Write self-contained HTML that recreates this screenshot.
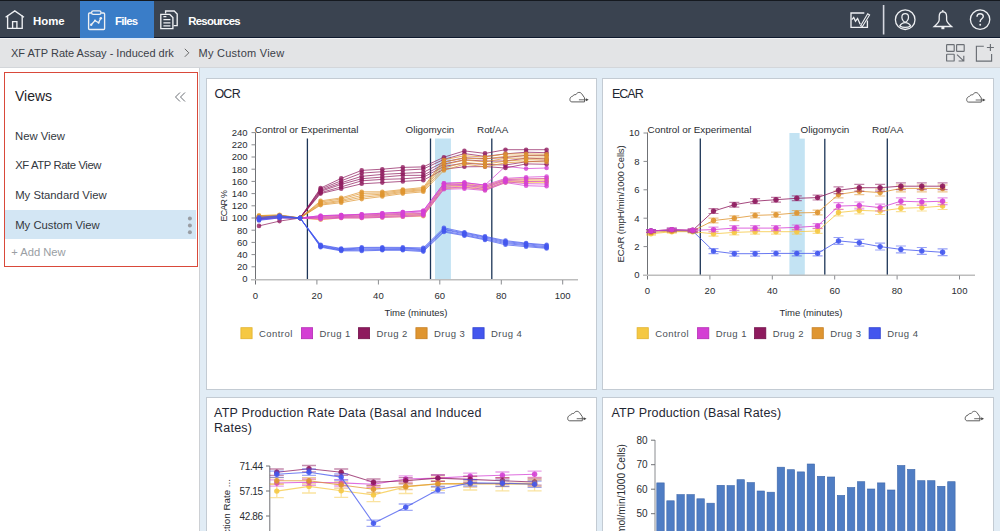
<!DOCTYPE html>
<html><head><meta charset="utf-8"><style>
*{box-sizing:border-box;margin:0;padding:0}
html,body{width:1000px;height:531px;overflow:hidden;background:#fff}
svg{position:absolute;left:0;top:0;overflow:visible}
svg text{font-family:"Liberation Sans", Arial, sans-serif}
.tk{font-size:9.5px;fill:#2a2d31}
.tk3{font-size:9.9px;fill:#2a2d31}
.tk2{font-size:10px;fill:#2a2d31}
.tk4{font-size:9.8px;fill:#2a2d31}
.lg{font-size:9.5px;fill:#4a4f56;letter-spacing:0.45px}
.bg{position:absolute}
</style></head><body>
<div class="bg" style="left:0;top:0;width:1000px;height:38px;background:#3a4350;border-top:1px solid #15191f;border-bottom:1px solid #0f1a2e"></div>
<div class="bg" style="left:80px;top:1px;width:73.5px;height:37px;background:#3a7dc8"></div>
<div class="bg" style="left:0;top:38px;width:1000px;height:30px;background:#e3e4e6;border-top:1.5px solid #f1f2f4;border-bottom:1px solid #d3d6da"></div>
<div class="bg" style="left:80px;top:38px;width:73.5px;height:1.6px;background:#dde9f8"></div>
<div class="bg" style="left:0;top:68px;width:200px;height:463px;background:#fff;border-right:1px solid #cdd0d4"></div>
<div class="bg" style="left:5px;top:209.5px;width:191px;height:29.5px;background:#d3e6f4"></div>
<div class="bg" style="left:4.2px;top:72px;width:193.6px;height:195px;border:1.6px solid #d9493a"></div>
<div class="bg" style="left:200px;top:68px;width:800px;height:463px;background:#e1ecf5"></div>
<div class="bg" style="left:206px;top:78px;width:391px;height:312px;background:#fff;border:1px solid #c3cbd3"></div>
<div class="bg" style="left:602px;top:78px;width:392px;height:312px;background:#fff;border:1px solid #c3cbd3"></div>
<div class="bg" style="left:206px;top:397px;width:391px;height:140px;background:#fff;border:1px solid #c3cbd3"></div>
<div class="bg" style="left:602px;top:397px;width:392px;height:140px;background:#fff;border:1px solid #c3cbd3"></div>

<svg width="1000" height="40" viewBox="0 0 1000 40" fill="none" stroke="#eef0f3" stroke-width="1.35" style="left:0;top:0">
<path d="M5.6 17.2 L14.8 10.9 L24 17.2"/><path d="M7.6 15.6 V28.3 H22.2 V15.6"/><path d="M12.6 28.3 V21.6 H16.9 V28.3"/>
<path d="M91.3 13 H89.6 Q88.6 13 88.6 14 V28.6 Q88.6 29.5 89.6 29.5 H103.6 Q104.6 29.5 104.6 28.6 V14 Q104.6 13 103.6 13 H101.2"/>
<rect x="91.6" y="10.9" width="9.4" height="3.5" rx="1.7"/>
<path d="M91.2 24.8 L95 20.6 L98.6 22.7 L100.8 18.2" stroke-width="1.3"/>
<circle cx="91.2" cy="24.8" r="1.2" fill="#eef0f3" stroke="none"/><circle cx="95" cy="20.6" r="1" fill="#eef0f3" stroke="none"/><circle cx="98.6" cy="22.7" r="1" fill="#eef0f3" stroke="none"/><circle cx="100.8" cy="18.2" r="1.3" fill="#eef0f3" stroke="none"/>
<path d="M165.6 13.6 V11 H174.2 L177.2 14 V25.6 H173.6"/>
<path d="M160.8 14.4 H169.8 L172.9 17.5 V28.6 H160.8 Z"/>
<path d="M163.4 16.6 H166.4 M163.4 19.7 H170.4 M163.4 22.8 H170.4 M163.4 25.9 H170.4" stroke-width="1.3"/>
<path d="M864.3 13 H851 V27.3 H867.4 V20.6"/>
<path d="M851.8 19.6 L853.7 17.4 L855.5 21.2 L857.6 18.4 L860.2 24.2" stroke-width="1.3"/>
<path d="M860.6 25.8 L867.7 13.8 L869.6 15 L862.4 26.6 Z" stroke-width="1.1"/>
<path d="M883.6 5 V34.5" stroke="#d5d8e0" stroke-width="1.6"/>
<circle cx="905.2" cy="19.7" r="9.8" stroke-width="1.3"/>
<path d="M905.2 13.7 C907.2 13.7 908.5 15.2 908.5 17.2 C908.5 19.5 906.8 22.1 905.2 22.1 C903.6 22.1 901.9 19.5 901.9 17.2 C901.9 15.2 903.2 13.7 905.2 13.7 Z" stroke-width="1.25"/>
<path d="M899.8 25.9 C901 23.7 903 22.6 905.2 22.6 C907.4 22.6 909.4 23.7 910.6 25.9 C909 27 907.2 27.4 905.2 27.4 C903.2 27.4 901.4 27 899.8 25.9 Z" stroke-width="1.2"/>
<path d="M942.8 11.9 C940.3 11.9 939.2 13.7 939.2 16.4 V19.8 C939.2 22.4 936.6 24.4 934.2 26.5 H951.6 C949.2 24.4 946.6 22.4 946.6 19.8 V16.4 C946.6 13.7 945.3 11.9 942.8 11.9 Z" stroke-width="1.3"/>
<circle cx="942.8" cy="11" r="0.9" fill="#eef0f3" stroke="none"/>
<rect x="941.4" y="27" width="3" height="2.2" fill="#eef0f3" stroke="none"/>
<circle cx="980.1" cy="19.6" r="9.7" stroke-width="1.3"/>
<path d="M977 16.8 C977 14.8 978.4 13.7 980.1 13.7 C982 13.7 983.3 14.9 983.3 16.6 C983.3 18.6 980.2 19 980.2 21.3 V22.1" stroke-width="1.4"/>
<circle cx="980.2" cy="24.8" r="0.95" fill="#eef0f3" stroke="none"/>
</svg>


<svg width="1000" height="70" viewBox="0 0 1000 70" fill="none" stroke="#6a6e74" stroke-width="1.15" style="left:0;top:0">
<rect x="946.6" y="44.6" width="7.6" height="6.8" rx="0.6"/><rect x="956.6" y="44.6" width="7.6" height="6.8" rx="0.6"/><rect x="946.6" y="54.2" width="7.6" height="6.8" rx="0.6"/>
<path d="M957 54.6 L963.6 60.8 M958.6 61 H963.8 V55.8"/>
<path d="M983.8 46.2 H976.4 V61.1 H991.6 V54.1"/><path d="M990.4 44 V51 M986.9 47.5 H993.9"/>
</svg>

<svg width="1000" height="531" viewBox="0 0 1000 531">
<path d="M184.8 48.8 L188.8 52.8 L184.8 56.8" fill="none" stroke="#666" stroke-width="1"/>
<path d="M180 92.5 L175.5 97 L180 101.5 M185 92.5 L180.5 97 L185 101.5" fill="none" stroke="#6b6f75" stroke-width="1"/>
<circle cx="189.9" cy="218.5" r="2" fill="#999da3"/><circle cx="189.9" cy="225.4" r="2" fill="#999da3"/><circle cx="189.9" cy="232.3" r="2" fill="#999da3"/>
<text x="33.00" y="24.50" font-size="11.40" font-weight="700" fill="#fff">Home</text>
<text x="115.00" y="24.50" font-size="11.40" letter-spacing="-0.70" font-weight="700" fill="#fff">Files</text>
<text x="188.30" y="24.50" font-size="11.40" letter-spacing="-0.75" font-weight="700" fill="#fff">Resources</text>
<text x="11.00" y="56.60" font-size="11.00" fill="#3b4048">XF ATP Rate Assay - Induced drk</text>
<text x="198.60" y="56.60" font-size="11.00" letter-spacing="0.25" fill="#3b4048">My Custom View</text>
<text x="15.00" y="101.00" font-size="14.00" fill="#1e2228">Views</text>
<text x="15.00" y="139.70" font-size="11.30" fill="#33383e">New View</text>
<text x="15.20" y="169.20" font-size="11.30" letter-spacing="-0.40" fill="#33383e">XF ATP Rate View</text>
<text x="15.20" y="199.00" font-size="11.30" fill="#33383e">My Standard View</text>
<text x="15.20" y="228.50" font-size="11.30" fill="#33383e">My Custom View</text>
<text x="11.20" y="256.00" font-size="11.20" fill="#9a9ea3">+ Add New</text>
<text x="214.40" y="97.80" font-size="12.50" letter-spacing="-0.75" fill="#1f2733">OCR</text>
<text x="612.00" y="97.80" font-size="12.50" letter-spacing="-1.00" fill="#1f2733">ECAR</text>
<text x="214.00" y="416.60" font-size="12.50" letter-spacing="0.24" fill="#1f2733">ATP Production Rate Data (Basal and Induced</text>
<text x="214.00" y="431.90" font-size="12.50" letter-spacing="0.24" fill="#1f2733">Rates)</text>
<text x="611.50" y="416.60" font-size="12.50" letter-spacing="0.15" fill="#1f2733">ATP Production (Basal Rates)</text>
<rect x="435" y="138.5" width="15.9" height="140.5" fill="#c3e3f3"/>
<line x1="307.4" y1="138.5" x2="307.4" y2="279" stroke="#1d3557" stroke-width="1.3"/>
<line x1="430.5" y1="138.5" x2="430.5" y2="279" stroke="#1d3557" stroke-width="1.3"/>
<line x1="491.8" y1="138.5" x2="491.8" y2="279" stroke="#1d3557" stroke-width="1.3"/>
<line x1="255.5" y1="132.6" x2="255.5" y2="284.5" stroke="#6f7175" stroke-width="1"/>
<line x1="251" y1="279.8" x2="578" y2="279.8" stroke="#bdbdbd" stroke-width="1.6"/>
<text x="247.5" y="282.4" text-anchor="end" class="tk">0</text>
<line x1="251.5" y1="266.8" x2="255.5" y2="266.8" stroke="#8a8c90" stroke-width="1"/>
<text x="247.5" y="270.2" text-anchor="end" class="tk">20</text>
<line x1="251.5" y1="254.6" x2="255.5" y2="254.6" stroke="#8a8c90" stroke-width="1"/>
<text x="247.5" y="258.0" text-anchor="end" class="tk">40</text>
<line x1="251.5" y1="242.4" x2="255.5" y2="242.4" stroke="#8a8c90" stroke-width="1"/>
<text x="247.5" y="245.8" text-anchor="end" class="tk">60</text>
<line x1="251.5" y1="230.2" x2="255.5" y2="230.2" stroke="#8a8c90" stroke-width="1"/>
<text x="247.5" y="233.6" text-anchor="end" class="tk">80</text>
<line x1="251.5" y1="218.0" x2="255.5" y2="218.0" stroke="#8a8c90" stroke-width="1"/>
<text x="247.5" y="221.4" text-anchor="end" class="tk">100</text>
<line x1="251.5" y1="205.8" x2="255.5" y2="205.8" stroke="#8a8c90" stroke-width="1"/>
<text x="247.5" y="209.2" text-anchor="end" class="tk">120</text>
<line x1="251.5" y1="193.6" x2="255.5" y2="193.6" stroke="#8a8c90" stroke-width="1"/>
<text x="247.5" y="197.0" text-anchor="end" class="tk">140</text>
<line x1="251.5" y1="181.4" x2="255.5" y2="181.4" stroke="#8a8c90" stroke-width="1"/>
<text x="247.5" y="184.8" text-anchor="end" class="tk">160</text>
<line x1="251.5" y1="169.2" x2="255.5" y2="169.2" stroke="#8a8c90" stroke-width="1"/>
<text x="247.5" y="172.6" text-anchor="end" class="tk">180</text>
<line x1="251.5" y1="157.0" x2="255.5" y2="157.0" stroke="#8a8c90" stroke-width="1"/>
<text x="247.5" y="160.4" text-anchor="end" class="tk">200</text>
<line x1="251.5" y1="144.8" x2="255.5" y2="144.8" stroke="#8a8c90" stroke-width="1"/>
<text x="247.5" y="148.2" text-anchor="end" class="tk">220</text>
<line x1="251.5" y1="132.6" x2="255.5" y2="132.6" stroke="#8a8c90" stroke-width="1"/>
<text x="247.5" y="136.0" text-anchor="end" class="tk">240</text>
<text x="255.5" y="299" text-anchor="middle" class="tk">0</text>
<line x1="316.9" y1="280" x2="316.9" y2="284.5" stroke="#8a8c90" stroke-width="1"/>
<text x="316.9" y="299" text-anchor="middle" class="tk">20</text>
<line x1="378.4" y1="280" x2="378.4" y2="284.5" stroke="#8a8c90" stroke-width="1"/>
<text x="378.4" y="299" text-anchor="middle" class="tk">40</text>
<line x1="439.8" y1="280" x2="439.8" y2="284.5" stroke="#8a8c90" stroke-width="1"/>
<text x="439.8" y="299" text-anchor="middle" class="tk">60</text>
<line x1="501.3" y1="280" x2="501.3" y2="284.5" stroke="#8a8c90" stroke-width="1"/>
<text x="501.3" y="299" text-anchor="middle" class="tk">80</text>
<line x1="562.7" y1="280" x2="562.7" y2="284.5" stroke="#8a8c90" stroke-width="1"/>
<text x="562.7" y="299" text-anchor="middle" class="tk">100</text>
<text x="416" y="315.5" text-anchor="middle" class="tk">Time (minutes)</text>
<text transform="translate(227.1,206.2) rotate(-90)" text-anchor="middle" class="tk" style="font-size:8.9px" letter-spacing="-0.75">ECAR %</text>
<text x="254.8" y="133.1" class="tk3">Control or Experimental</text>
<text x="405.5" y="133.1" class="tk3">Oligomycin</text>
<text x="477" y="133.1" class="tk3">Rot/AA</text>
<polyline points="259.0,218.0 279.5,217.3 300.1,218.0 320.6,219.8 341.2,217.9 361.7,217.9 382.3,217.4 402.8,216.8 423.3,216.2 443.9,188.7 464.4,187.5 485.0,189.9 505.5,182.6 526.1,182.6 546.6,182.6" fill="none" stroke="#f5c842" stroke-width="0.9" stroke-opacity="0.80"/>
<circle cx="259.0" cy="218.0" r="2.3" fill="#f5c842" fill-opacity="0.80"/>
<circle cx="279.5" cy="217.3" r="2.3" fill="#f5c842" fill-opacity="0.80"/>
<circle cx="300.1" cy="218.0" r="2.3" fill="#f5c842" fill-opacity="0.80"/>
<circle cx="320.6" cy="219.8" r="2.3" fill="#f5c842" fill-opacity="0.80"/>
<circle cx="341.2" cy="217.9" r="2.3" fill="#f5c842" fill-opacity="0.80"/>
<circle cx="361.7" cy="217.9" r="2.3" fill="#f5c842" fill-opacity="0.80"/>
<circle cx="382.3" cy="217.4" r="2.3" fill="#f5c842" fill-opacity="0.80"/>
<circle cx="402.8" cy="216.8" r="2.3" fill="#f5c842" fill-opacity="0.80"/>
<circle cx="423.3" cy="216.2" r="2.3" fill="#f5c842" fill-opacity="0.80"/>
<circle cx="443.9" cy="188.7" r="2.3" fill="#f5c842" fill-opacity="0.80"/>
<circle cx="464.4" cy="187.5" r="2.3" fill="#f5c842" fill-opacity="0.80"/>
<circle cx="485.0" cy="189.9" r="2.3" fill="#f5c842" fill-opacity="0.80"/>
<circle cx="505.5" cy="182.6" r="2.3" fill="#f5c842" fill-opacity="0.80"/>
<circle cx="526.1" cy="182.6" r="2.3" fill="#f5c842" fill-opacity="0.80"/>
<circle cx="546.6" cy="182.6" r="2.3" fill="#f5c842" fill-opacity="0.80"/>
<polyline points="259.0,217.2 279.5,216.7 300.1,218.0 320.6,218.9 341.2,217.2 361.7,217.0 382.3,216.3 402.8,215.8 423.3,215.2 443.9,187.3 464.4,186.0 485.0,188.8 505.5,181.5 526.1,181.4 546.6,181.0" fill="none" stroke="#f5c842" stroke-width="0.9" stroke-opacity="0.80"/>
<circle cx="259.0" cy="217.2" r="2.3" fill="#f5c842" fill-opacity="0.80"/>
<circle cx="279.5" cy="216.7" r="2.3" fill="#f5c842" fill-opacity="0.80"/>
<circle cx="300.1" cy="218.0" r="2.3" fill="#f5c842" fill-opacity="0.80"/>
<circle cx="320.6" cy="218.9" r="2.3" fill="#f5c842" fill-opacity="0.80"/>
<circle cx="341.2" cy="217.2" r="2.3" fill="#f5c842" fill-opacity="0.80"/>
<circle cx="361.7" cy="217.0" r="2.3" fill="#f5c842" fill-opacity="0.80"/>
<circle cx="382.3" cy="216.3" r="2.3" fill="#f5c842" fill-opacity="0.80"/>
<circle cx="402.8" cy="215.8" r="2.3" fill="#f5c842" fill-opacity="0.80"/>
<circle cx="423.3" cy="215.2" r="2.3" fill="#f5c842" fill-opacity="0.80"/>
<circle cx="443.9" cy="187.3" r="2.3" fill="#f5c842" fill-opacity="0.80"/>
<circle cx="464.4" cy="186.0" r="2.3" fill="#f5c842" fill-opacity="0.80"/>
<circle cx="485.0" cy="188.8" r="2.3" fill="#f5c842" fill-opacity="0.80"/>
<circle cx="505.5" cy="181.5" r="2.3" fill="#f5c842" fill-opacity="0.80"/>
<circle cx="526.1" cy="181.4" r="2.3" fill="#f5c842" fill-opacity="0.80"/>
<circle cx="546.6" cy="181.0" r="2.3" fill="#f5c842" fill-opacity="0.80"/>
<polyline points="259.0,216.3 279.5,215.7 300.1,218.0 320.6,217.7 341.2,216.4 361.7,216.1 382.3,215.3 402.8,214.7 423.3,214.2 443.9,186.0 464.4,184.7 485.0,187.5 505.5,180.2 526.1,180.2 546.6,179.8" fill="none" stroke="#f5c842" stroke-width="0.9" stroke-opacity="0.80"/>
<circle cx="259.0" cy="216.3" r="2.3" fill="#f5c842" fill-opacity="0.80"/>
<circle cx="279.5" cy="215.7" r="2.3" fill="#f5c842" fill-opacity="0.80"/>
<circle cx="300.1" cy="218.0" r="2.3" fill="#f5c842" fill-opacity="0.80"/>
<circle cx="320.6" cy="217.7" r="2.3" fill="#f5c842" fill-opacity="0.80"/>
<circle cx="341.2" cy="216.4" r="2.3" fill="#f5c842" fill-opacity="0.80"/>
<circle cx="361.7" cy="216.1" r="2.3" fill="#f5c842" fill-opacity="0.80"/>
<circle cx="382.3" cy="215.3" r="2.3" fill="#f5c842" fill-opacity="0.80"/>
<circle cx="402.8" cy="214.7" r="2.3" fill="#f5c842" fill-opacity="0.80"/>
<circle cx="423.3" cy="214.2" r="2.3" fill="#f5c842" fill-opacity="0.80"/>
<circle cx="443.9" cy="186.0" r="2.3" fill="#f5c842" fill-opacity="0.80"/>
<circle cx="464.4" cy="184.7" r="2.3" fill="#f5c842" fill-opacity="0.80"/>
<circle cx="485.0" cy="187.5" r="2.3" fill="#f5c842" fill-opacity="0.80"/>
<circle cx="505.5" cy="180.2" r="2.3" fill="#f5c842" fill-opacity="0.80"/>
<circle cx="526.1" cy="180.2" r="2.3" fill="#f5c842" fill-opacity="0.80"/>
<circle cx="546.6" cy="179.8" r="2.3" fill="#f5c842" fill-opacity="0.80"/>
<polyline points="259.0,215.6 279.5,214.9 300.1,218.0 320.6,216.8 341.2,215.6 361.7,215.0 382.3,214.4 402.8,213.7 423.3,213.2 443.9,184.5 464.4,183.3 485.0,186.3 505.5,179.0 526.1,179.0 546.6,178.4" fill="none" stroke="#f5c842" stroke-width="0.9" stroke-opacity="0.80"/>
<circle cx="259.0" cy="215.6" r="2.3" fill="#f5c842" fill-opacity="0.80"/>
<circle cx="279.5" cy="214.9" r="2.3" fill="#f5c842" fill-opacity="0.80"/>
<circle cx="300.1" cy="218.0" r="2.3" fill="#f5c842" fill-opacity="0.80"/>
<circle cx="320.6" cy="216.8" r="2.3" fill="#f5c842" fill-opacity="0.80"/>
<circle cx="341.2" cy="215.6" r="2.3" fill="#f5c842" fill-opacity="0.80"/>
<circle cx="361.7" cy="215.0" r="2.3" fill="#f5c842" fill-opacity="0.80"/>
<circle cx="382.3" cy="214.4" r="2.3" fill="#f5c842" fill-opacity="0.80"/>
<circle cx="402.8" cy="213.7" r="2.3" fill="#f5c842" fill-opacity="0.80"/>
<circle cx="423.3" cy="213.2" r="2.3" fill="#f5c842" fill-opacity="0.80"/>
<circle cx="443.9" cy="184.5" r="2.3" fill="#f5c842" fill-opacity="0.80"/>
<circle cx="464.4" cy="183.3" r="2.3" fill="#f5c842" fill-opacity="0.80"/>
<circle cx="485.0" cy="186.3" r="2.3" fill="#f5c842" fill-opacity="0.80"/>
<circle cx="505.5" cy="179.0" r="2.3" fill="#f5c842" fill-opacity="0.80"/>
<circle cx="526.1" cy="179.0" r="2.3" fill="#f5c842" fill-opacity="0.80"/>
<circle cx="546.6" cy="178.4" r="2.3" fill="#f5c842" fill-opacity="0.80"/>
<polyline points="259.0,219.8 279.5,218.0 300.1,218.0 320.6,219.2 341.2,218.0 361.7,218.0 382.3,217.4 402.8,216.7 423.3,215.6 443.9,189.3 464.4,188.7 485.0,190.5 505.5,182.6 526.1,185.7 546.6,186.3" fill="none" stroke="#d43fd4" stroke-width="0.9" stroke-opacity="0.80"/>
<circle cx="259.0" cy="219.8" r="2.3" fill="#d43fd4" fill-opacity="0.80"/>
<circle cx="279.5" cy="218.0" r="2.3" fill="#d43fd4" fill-opacity="0.80"/>
<circle cx="300.1" cy="218.0" r="2.3" fill="#d43fd4" fill-opacity="0.80"/>
<circle cx="320.6" cy="219.2" r="2.3" fill="#d43fd4" fill-opacity="0.80"/>
<circle cx="341.2" cy="218.0" r="2.3" fill="#d43fd4" fill-opacity="0.80"/>
<circle cx="361.7" cy="218.0" r="2.3" fill="#d43fd4" fill-opacity="0.80"/>
<circle cx="382.3" cy="217.4" r="2.3" fill="#d43fd4" fill-opacity="0.80"/>
<circle cx="402.8" cy="216.7" r="2.3" fill="#d43fd4" fill-opacity="0.80"/>
<circle cx="423.3" cy="215.6" r="2.3" fill="#d43fd4" fill-opacity="0.80"/>
<circle cx="443.9" cy="189.3" r="2.3" fill="#d43fd4" fill-opacity="0.80"/>
<circle cx="464.4" cy="188.7" r="2.3" fill="#d43fd4" fill-opacity="0.80"/>
<circle cx="485.0" cy="190.5" r="2.3" fill="#d43fd4" fill-opacity="0.80"/>
<circle cx="505.5" cy="182.6" r="2.3" fill="#d43fd4" fill-opacity="0.80"/>
<circle cx="526.1" cy="185.7" r="2.3" fill="#d43fd4" fill-opacity="0.80"/>
<circle cx="546.6" cy="186.3" r="2.3" fill="#d43fd4" fill-opacity="0.80"/>
<polyline points="259.0,219.2 279.5,217.5 300.1,218.0 320.6,218.2 341.2,217.3 361.7,217.1 382.3,216.5 402.8,215.6 423.3,214.5 443.9,188.0 464.4,187.1 485.0,189.3 505.5,181.7 526.1,183.7 546.6,184.0" fill="none" stroke="#d43fd4" stroke-width="0.9" stroke-opacity="0.80"/>
<circle cx="259.0" cy="219.2" r="2.3" fill="#d43fd4" fill-opacity="0.80"/>
<circle cx="279.5" cy="217.5" r="2.3" fill="#d43fd4" fill-opacity="0.80"/>
<circle cx="300.1" cy="218.0" r="2.3" fill="#d43fd4" fill-opacity="0.80"/>
<circle cx="320.6" cy="218.2" r="2.3" fill="#d43fd4" fill-opacity="0.80"/>
<circle cx="341.2" cy="217.3" r="2.3" fill="#d43fd4" fill-opacity="0.80"/>
<circle cx="361.7" cy="217.1" r="2.3" fill="#d43fd4" fill-opacity="0.80"/>
<circle cx="382.3" cy="216.5" r="2.3" fill="#d43fd4" fill-opacity="0.80"/>
<circle cx="402.8" cy="215.6" r="2.3" fill="#d43fd4" fill-opacity="0.80"/>
<circle cx="423.3" cy="214.5" r="2.3" fill="#d43fd4" fill-opacity="0.80"/>
<circle cx="443.9" cy="188.0" r="2.3" fill="#d43fd4" fill-opacity="0.80"/>
<circle cx="464.4" cy="187.1" r="2.3" fill="#d43fd4" fill-opacity="0.80"/>
<circle cx="485.0" cy="189.3" r="2.3" fill="#d43fd4" fill-opacity="0.80"/>
<circle cx="505.5" cy="181.7" r="2.3" fill="#d43fd4" fill-opacity="0.80"/>
<circle cx="526.1" cy="183.7" r="2.3" fill="#d43fd4" fill-opacity="0.80"/>
<circle cx="546.6" cy="184.0" r="2.3" fill="#d43fd4" fill-opacity="0.80"/>
<polyline points="259.0,218.6 279.5,217.1 300.1,218.0 320.6,217.4 341.2,216.5 361.7,216.2 382.3,215.2 402.8,214.3 423.3,213.3 443.9,186.2 464.4,185.4 485.0,187.8 505.5,180.4 526.1,181.5 546.6,181.3" fill="none" stroke="#d43fd4" stroke-width="0.9" stroke-opacity="0.80"/>
<circle cx="259.0" cy="218.6" r="2.3" fill="#d43fd4" fill-opacity="0.80"/>
<circle cx="279.5" cy="217.1" r="2.3" fill="#d43fd4" fill-opacity="0.80"/>
<circle cx="300.1" cy="218.0" r="2.3" fill="#d43fd4" fill-opacity="0.80"/>
<circle cx="320.6" cy="217.4" r="2.3" fill="#d43fd4" fill-opacity="0.80"/>
<circle cx="341.2" cy="216.5" r="2.3" fill="#d43fd4" fill-opacity="0.80"/>
<circle cx="361.7" cy="216.2" r="2.3" fill="#d43fd4" fill-opacity="0.80"/>
<circle cx="382.3" cy="215.2" r="2.3" fill="#d43fd4" fill-opacity="0.80"/>
<circle cx="402.8" cy="214.3" r="2.3" fill="#d43fd4" fill-opacity="0.80"/>
<circle cx="423.3" cy="213.3" r="2.3" fill="#d43fd4" fill-opacity="0.80"/>
<circle cx="443.9" cy="186.2" r="2.3" fill="#d43fd4" fill-opacity="0.80"/>
<circle cx="464.4" cy="185.4" r="2.3" fill="#d43fd4" fill-opacity="0.80"/>
<circle cx="485.0" cy="187.8" r="2.3" fill="#d43fd4" fill-opacity="0.80"/>
<circle cx="505.5" cy="180.4" r="2.3" fill="#d43fd4" fill-opacity="0.80"/>
<circle cx="526.1" cy="181.5" r="2.3" fill="#d43fd4" fill-opacity="0.80"/>
<circle cx="546.6" cy="181.3" r="2.3" fill="#d43fd4" fill-opacity="0.80"/>
<polyline points="259.0,218.0 279.5,216.6 300.1,218.0 320.6,216.5 341.2,215.6 361.7,215.2 382.3,214.3 402.8,213.2 423.3,211.8 443.9,184.8 464.4,184.4 485.0,186.5 505.5,179.6 526.1,178.9 546.6,178.6" fill="none" stroke="#d43fd4" stroke-width="0.9" stroke-opacity="0.80"/>
<circle cx="259.0" cy="218.0" r="2.3" fill="#d43fd4" fill-opacity="0.80"/>
<circle cx="279.5" cy="216.6" r="2.3" fill="#d43fd4" fill-opacity="0.80"/>
<circle cx="300.1" cy="218.0" r="2.3" fill="#d43fd4" fill-opacity="0.80"/>
<circle cx="320.6" cy="216.5" r="2.3" fill="#d43fd4" fill-opacity="0.80"/>
<circle cx="341.2" cy="215.6" r="2.3" fill="#d43fd4" fill-opacity="0.80"/>
<circle cx="361.7" cy="215.2" r="2.3" fill="#d43fd4" fill-opacity="0.80"/>
<circle cx="382.3" cy="214.3" r="2.3" fill="#d43fd4" fill-opacity="0.80"/>
<circle cx="402.8" cy="213.2" r="2.3" fill="#d43fd4" fill-opacity="0.80"/>
<circle cx="423.3" cy="211.8" r="2.3" fill="#d43fd4" fill-opacity="0.80"/>
<circle cx="443.9" cy="184.8" r="2.3" fill="#d43fd4" fill-opacity="0.80"/>
<circle cx="464.4" cy="184.4" r="2.3" fill="#d43fd4" fill-opacity="0.80"/>
<circle cx="485.0" cy="186.5" r="2.3" fill="#d43fd4" fill-opacity="0.80"/>
<circle cx="505.5" cy="179.6" r="2.3" fill="#d43fd4" fill-opacity="0.80"/>
<circle cx="526.1" cy="178.9" r="2.3" fill="#d43fd4" fill-opacity="0.80"/>
<circle cx="546.6" cy="178.6" r="2.3" fill="#d43fd4" fill-opacity="0.80"/>
<polyline points="259.0,217.4 279.5,216.2 300.1,218.0 320.6,215.7 341.2,215.0 361.7,214.3 382.3,213.2 402.8,212.1 423.3,210.7 443.9,183.3 464.4,182.6 485.0,185.1 505.5,178.4 526.1,177.2 546.6,176.5" fill="none" stroke="#d43fd4" stroke-width="0.9" stroke-opacity="0.80"/>
<circle cx="259.0" cy="217.4" r="2.3" fill="#d43fd4" fill-opacity="0.80"/>
<circle cx="279.5" cy="216.2" r="2.3" fill="#d43fd4" fill-opacity="0.80"/>
<circle cx="300.1" cy="218.0" r="2.3" fill="#d43fd4" fill-opacity="0.80"/>
<circle cx="320.6" cy="215.7" r="2.3" fill="#d43fd4" fill-opacity="0.80"/>
<circle cx="341.2" cy="215.0" r="2.3" fill="#d43fd4" fill-opacity="0.80"/>
<circle cx="361.7" cy="214.3" r="2.3" fill="#d43fd4" fill-opacity="0.80"/>
<circle cx="382.3" cy="213.2" r="2.3" fill="#d43fd4" fill-opacity="0.80"/>
<circle cx="402.8" cy="212.1" r="2.3" fill="#d43fd4" fill-opacity="0.80"/>
<circle cx="423.3" cy="210.7" r="2.3" fill="#d43fd4" fill-opacity="0.80"/>
<circle cx="443.9" cy="183.3" r="2.3" fill="#d43fd4" fill-opacity="0.80"/>
<circle cx="464.4" cy="182.6" r="2.3" fill="#d43fd4" fill-opacity="0.80"/>
<circle cx="485.0" cy="185.1" r="2.3" fill="#d43fd4" fill-opacity="0.80"/>
<circle cx="505.5" cy="178.4" r="2.3" fill="#d43fd4" fill-opacity="0.80"/>
<circle cx="526.1" cy="177.2" r="2.3" fill="#d43fd4" fill-opacity="0.80"/>
<circle cx="546.6" cy="176.5" r="2.3" fill="#d43fd4" fill-opacity="0.80"/>
<polyline points="259.0,217.4 279.5,216.2 300.1,218.0 320.6,215.7 341.2,215.0 361.7,214.3 382.3,213.2 402.8,212.1 423.3,210.7 443.9,183.3 464.4,182.6 485.0,185.1 505.5,166.2 526.1,168.6 546.6,168.0" fill="none" stroke="#d43fd4" stroke-width="0.9" stroke-opacity="0.80"/>
<circle cx="259.0" cy="217.4" r="2.3" fill="#d43fd4" fill-opacity="0.80"/>
<circle cx="279.5" cy="216.2" r="2.3" fill="#d43fd4" fill-opacity="0.80"/>
<circle cx="300.1" cy="218.0" r="2.3" fill="#d43fd4" fill-opacity="0.80"/>
<circle cx="320.6" cy="215.7" r="2.3" fill="#d43fd4" fill-opacity="0.80"/>
<circle cx="341.2" cy="215.0" r="2.3" fill="#d43fd4" fill-opacity="0.80"/>
<circle cx="361.7" cy="214.3" r="2.3" fill="#d43fd4" fill-opacity="0.80"/>
<circle cx="382.3" cy="213.2" r="2.3" fill="#d43fd4" fill-opacity="0.80"/>
<circle cx="402.8" cy="212.1" r="2.3" fill="#d43fd4" fill-opacity="0.80"/>
<circle cx="423.3" cy="210.7" r="2.3" fill="#d43fd4" fill-opacity="0.80"/>
<circle cx="443.9" cy="183.3" r="2.3" fill="#d43fd4" fill-opacity="0.80"/>
<circle cx="464.4" cy="182.6" r="2.3" fill="#d43fd4" fill-opacity="0.80"/>
<circle cx="485.0" cy="185.1" r="2.3" fill="#d43fd4" fill-opacity="0.80"/>
<circle cx="505.5" cy="166.2" r="2.3" fill="#d43fd4" fill-opacity="0.80"/>
<circle cx="526.1" cy="168.6" r="2.3" fill="#d43fd4" fill-opacity="0.80"/>
<circle cx="546.6" cy="168.0" r="2.3" fill="#d43fd4" fill-opacity="0.80"/>
<polyline points="259.0,225.9 279.5,221.1 300.1,218.0 320.6,193.6 341.2,188.7 361.7,183.8 382.3,182.6 402.8,181.4 423.3,180.2 443.9,169.2 464.4,166.8 485.0,166.6 505.5,168.0 526.1,163.9 546.6,164.3" fill="none" stroke="#8e1a5e" stroke-width="0.9" stroke-opacity="0.80"/>
<circle cx="259.0" cy="225.9" r="2.3" fill="#8e1a5e" fill-opacity="0.80"/>
<circle cx="279.5" cy="221.1" r="2.3" fill="#8e1a5e" fill-opacity="0.80"/>
<circle cx="300.1" cy="218.0" r="2.3" fill="#8e1a5e" fill-opacity="0.80"/>
<circle cx="320.6" cy="193.6" r="2.3" fill="#8e1a5e" fill-opacity="0.80"/>
<circle cx="341.2" cy="188.7" r="2.3" fill="#8e1a5e" fill-opacity="0.80"/>
<circle cx="361.7" cy="183.8" r="2.3" fill="#8e1a5e" fill-opacity="0.80"/>
<circle cx="382.3" cy="182.6" r="2.3" fill="#8e1a5e" fill-opacity="0.80"/>
<circle cx="402.8" cy="181.4" r="2.3" fill="#8e1a5e" fill-opacity="0.80"/>
<circle cx="423.3" cy="180.2" r="2.3" fill="#8e1a5e" fill-opacity="0.80"/>
<circle cx="443.9" cy="169.2" r="2.3" fill="#8e1a5e" fill-opacity="0.80"/>
<circle cx="464.4" cy="166.8" r="2.3" fill="#8e1a5e" fill-opacity="0.80"/>
<circle cx="485.0" cy="166.6" r="2.3" fill="#8e1a5e" fill-opacity="0.80"/>
<circle cx="505.5" cy="168.0" r="2.3" fill="#8e1a5e" fill-opacity="0.80"/>
<circle cx="526.1" cy="163.9" r="2.3" fill="#8e1a5e" fill-opacity="0.80"/>
<circle cx="546.6" cy="164.3" r="2.3" fill="#8e1a5e" fill-opacity="0.80"/>
<polyline points="259.0,217.9 279.5,217.0 300.1,218.0 320.6,192.7 341.2,186.9 361.7,180.8 382.3,179.4 402.8,178.8 423.3,177.3 443.9,166.4 464.4,163.1 485.0,164.5 505.5,165.0 526.1,161.8 546.6,160.9" fill="none" stroke="#8e1a5e" stroke-width="0.9" stroke-opacity="0.80"/>
<circle cx="259.0" cy="217.9" r="2.3" fill="#8e1a5e" fill-opacity="0.80"/>
<circle cx="279.5" cy="217.0" r="2.3" fill="#8e1a5e" fill-opacity="0.80"/>
<circle cx="300.1" cy="218.0" r="2.3" fill="#8e1a5e" fill-opacity="0.80"/>
<circle cx="320.6" cy="192.7" r="2.3" fill="#8e1a5e" fill-opacity="0.80"/>
<circle cx="341.2" cy="186.9" r="2.3" fill="#8e1a5e" fill-opacity="0.80"/>
<circle cx="361.7" cy="180.8" r="2.3" fill="#8e1a5e" fill-opacity="0.80"/>
<circle cx="382.3" cy="179.4" r="2.3" fill="#8e1a5e" fill-opacity="0.80"/>
<circle cx="402.8" cy="178.8" r="2.3" fill="#8e1a5e" fill-opacity="0.80"/>
<circle cx="423.3" cy="177.3" r="2.3" fill="#8e1a5e" fill-opacity="0.80"/>
<circle cx="443.9" cy="166.4" r="2.3" fill="#8e1a5e" fill-opacity="0.80"/>
<circle cx="464.4" cy="163.1" r="2.3" fill="#8e1a5e" fill-opacity="0.80"/>
<circle cx="485.0" cy="164.5" r="2.3" fill="#8e1a5e" fill-opacity="0.80"/>
<circle cx="505.5" cy="165.0" r="2.3" fill="#8e1a5e" fill-opacity="0.80"/>
<circle cx="526.1" cy="161.8" r="2.3" fill="#8e1a5e" fill-opacity="0.80"/>
<circle cx="546.6" cy="160.9" r="2.3" fill="#8e1a5e" fill-opacity="0.80"/>
<polyline points="259.0,217.6 279.5,216.6 300.1,218.0 320.6,191.4 341.2,184.4 361.7,178.7 382.3,177.1 402.8,175.4 423.3,175.3 443.9,164.1 464.4,159.8 485.0,161.1 505.5,161.0 526.1,158.1 546.6,158.9" fill="none" stroke="#8e1a5e" stroke-width="0.9" stroke-opacity="0.80"/>
<circle cx="259.0" cy="217.6" r="2.3" fill="#8e1a5e" fill-opacity="0.80"/>
<circle cx="279.5" cy="216.6" r="2.3" fill="#8e1a5e" fill-opacity="0.80"/>
<circle cx="300.1" cy="218.0" r="2.3" fill="#8e1a5e" fill-opacity="0.80"/>
<circle cx="320.6" cy="191.4" r="2.3" fill="#8e1a5e" fill-opacity="0.80"/>
<circle cx="341.2" cy="184.4" r="2.3" fill="#8e1a5e" fill-opacity="0.80"/>
<circle cx="361.7" cy="178.7" r="2.3" fill="#8e1a5e" fill-opacity="0.80"/>
<circle cx="382.3" cy="177.1" r="2.3" fill="#8e1a5e" fill-opacity="0.80"/>
<circle cx="402.8" cy="175.4" r="2.3" fill="#8e1a5e" fill-opacity="0.80"/>
<circle cx="423.3" cy="175.3" r="2.3" fill="#8e1a5e" fill-opacity="0.80"/>
<circle cx="443.9" cy="164.1" r="2.3" fill="#8e1a5e" fill-opacity="0.80"/>
<circle cx="464.4" cy="159.8" r="2.3" fill="#8e1a5e" fill-opacity="0.80"/>
<circle cx="485.0" cy="161.1" r="2.3" fill="#8e1a5e" fill-opacity="0.80"/>
<circle cx="505.5" cy="161.0" r="2.3" fill="#8e1a5e" fill-opacity="0.80"/>
<circle cx="526.1" cy="158.1" r="2.3" fill="#8e1a5e" fill-opacity="0.80"/>
<circle cx="546.6" cy="158.9" r="2.3" fill="#8e1a5e" fill-opacity="0.80"/>
<polyline points="259.0,217.4 279.5,217.5 300.1,218.0 320.6,190.4 341.2,182.8 361.7,176.3 382.3,174.4 402.8,173.3 423.3,172.4 443.9,161.9 464.4,157.8 485.0,158.6 505.5,157.5 526.1,155.4 546.6,155.3" fill="none" stroke="#8e1a5e" stroke-width="0.9" stroke-opacity="0.80"/>
<circle cx="259.0" cy="217.4" r="2.3" fill="#8e1a5e" fill-opacity="0.80"/>
<circle cx="279.5" cy="217.5" r="2.3" fill="#8e1a5e" fill-opacity="0.80"/>
<circle cx="300.1" cy="218.0" r="2.3" fill="#8e1a5e" fill-opacity="0.80"/>
<circle cx="320.6" cy="190.4" r="2.3" fill="#8e1a5e" fill-opacity="0.80"/>
<circle cx="341.2" cy="182.8" r="2.3" fill="#8e1a5e" fill-opacity="0.80"/>
<circle cx="361.7" cy="176.3" r="2.3" fill="#8e1a5e" fill-opacity="0.80"/>
<circle cx="382.3" cy="174.4" r="2.3" fill="#8e1a5e" fill-opacity="0.80"/>
<circle cx="402.8" cy="173.3" r="2.3" fill="#8e1a5e" fill-opacity="0.80"/>
<circle cx="423.3" cy="172.4" r="2.3" fill="#8e1a5e" fill-opacity="0.80"/>
<circle cx="443.9" cy="161.9" r="2.3" fill="#8e1a5e" fill-opacity="0.80"/>
<circle cx="464.4" cy="157.8" r="2.3" fill="#8e1a5e" fill-opacity="0.80"/>
<circle cx="485.0" cy="158.6" r="2.3" fill="#8e1a5e" fill-opacity="0.80"/>
<circle cx="505.5" cy="157.5" r="2.3" fill="#8e1a5e" fill-opacity="0.80"/>
<circle cx="526.1" cy="155.4" r="2.3" fill="#8e1a5e" fill-opacity="0.80"/>
<circle cx="546.6" cy="155.3" r="2.3" fill="#8e1a5e" fill-opacity="0.80"/>
<polyline points="259.0,218.4 279.5,216.5 300.1,218.0 320.6,189.2 341.2,180.8 361.7,173.1 382.3,171.7 402.8,170.2 423.3,169.0 443.9,159.4 464.4,153.6 485.0,156.4 505.5,153.9 526.1,152.2 546.6,152.7" fill="none" stroke="#8e1a5e" stroke-width="0.9" stroke-opacity="0.80"/>
<circle cx="259.0" cy="218.4" r="2.3" fill="#8e1a5e" fill-opacity="0.80"/>
<circle cx="279.5" cy="216.5" r="2.3" fill="#8e1a5e" fill-opacity="0.80"/>
<circle cx="300.1" cy="218.0" r="2.3" fill="#8e1a5e" fill-opacity="0.80"/>
<circle cx="320.6" cy="189.2" r="2.3" fill="#8e1a5e" fill-opacity="0.80"/>
<circle cx="341.2" cy="180.8" r="2.3" fill="#8e1a5e" fill-opacity="0.80"/>
<circle cx="361.7" cy="173.1" r="2.3" fill="#8e1a5e" fill-opacity="0.80"/>
<circle cx="382.3" cy="171.7" r="2.3" fill="#8e1a5e" fill-opacity="0.80"/>
<circle cx="402.8" cy="170.2" r="2.3" fill="#8e1a5e" fill-opacity="0.80"/>
<circle cx="423.3" cy="169.0" r="2.3" fill="#8e1a5e" fill-opacity="0.80"/>
<circle cx="443.9" cy="159.4" r="2.3" fill="#8e1a5e" fill-opacity="0.80"/>
<circle cx="464.4" cy="153.6" r="2.3" fill="#8e1a5e" fill-opacity="0.80"/>
<circle cx="485.0" cy="156.4" r="2.3" fill="#8e1a5e" fill-opacity="0.80"/>
<circle cx="505.5" cy="153.9" r="2.3" fill="#8e1a5e" fill-opacity="0.80"/>
<circle cx="526.1" cy="152.2" r="2.3" fill="#8e1a5e" fill-opacity="0.80"/>
<circle cx="546.6" cy="152.7" r="2.3" fill="#8e1a5e" fill-opacity="0.80"/>
<polyline points="259.0,218.5 279.5,216.9 300.1,218.0 320.6,188.1 341.2,178.4 361.7,170.4 382.3,169.2 402.8,167.4 423.3,166.9 443.9,157.2 464.4,150.9 485.0,153.4 505.5,149.7 526.1,149.7 546.6,149.7" fill="none" stroke="#8e1a5e" stroke-width="0.9" stroke-opacity="0.80"/>
<circle cx="259.0" cy="218.5" r="2.3" fill="#8e1a5e" fill-opacity="0.80"/>
<circle cx="279.5" cy="216.9" r="2.3" fill="#8e1a5e" fill-opacity="0.80"/>
<circle cx="300.1" cy="218.0" r="2.3" fill="#8e1a5e" fill-opacity="0.80"/>
<circle cx="320.6" cy="188.1" r="2.3" fill="#8e1a5e" fill-opacity="0.80"/>
<circle cx="341.2" cy="178.4" r="2.3" fill="#8e1a5e" fill-opacity="0.80"/>
<circle cx="361.7" cy="170.4" r="2.3" fill="#8e1a5e" fill-opacity="0.80"/>
<circle cx="382.3" cy="169.2" r="2.3" fill="#8e1a5e" fill-opacity="0.80"/>
<circle cx="402.8" cy="167.4" r="2.3" fill="#8e1a5e" fill-opacity="0.80"/>
<circle cx="423.3" cy="166.9" r="2.3" fill="#8e1a5e" fill-opacity="0.80"/>
<circle cx="443.9" cy="157.2" r="2.3" fill="#8e1a5e" fill-opacity="0.80"/>
<circle cx="464.4" cy="150.9" r="2.3" fill="#8e1a5e" fill-opacity="0.80"/>
<circle cx="485.0" cy="153.4" r="2.3" fill="#8e1a5e" fill-opacity="0.80"/>
<circle cx="505.5" cy="149.7" r="2.3" fill="#8e1a5e" fill-opacity="0.80"/>
<circle cx="526.1" cy="149.7" r="2.3" fill="#8e1a5e" fill-opacity="0.80"/>
<circle cx="546.6" cy="149.7" r="2.3" fill="#8e1a5e" fill-opacity="0.80"/>
<polyline points="259.0,217.9 279.5,217.4 300.1,218.0 320.6,205.1 341.2,202.7 361.7,199.1 382.3,196.5 402.8,193.6 423.3,191.8 443.9,170.4 464.4,164.1 485.0,166.8 505.5,162.8 526.1,161.6 546.6,161.9" fill="none" stroke="#df9530" stroke-width="0.9" stroke-opacity="0.80"/>
<circle cx="259.0" cy="217.9" r="2.3" fill="#df9530" fill-opacity="0.80"/>
<circle cx="279.5" cy="217.4" r="2.3" fill="#df9530" fill-opacity="0.80"/>
<circle cx="300.1" cy="218.0" r="2.3" fill="#df9530" fill-opacity="0.80"/>
<circle cx="320.6" cy="205.1" r="2.3" fill="#df9530" fill-opacity="0.80"/>
<circle cx="341.2" cy="202.7" r="2.3" fill="#df9530" fill-opacity="0.80"/>
<circle cx="361.7" cy="199.1" r="2.3" fill="#df9530" fill-opacity="0.80"/>
<circle cx="382.3" cy="196.5" r="2.3" fill="#df9530" fill-opacity="0.80"/>
<circle cx="402.8" cy="193.6" r="2.3" fill="#df9530" fill-opacity="0.80"/>
<circle cx="423.3" cy="191.8" r="2.3" fill="#df9530" fill-opacity="0.80"/>
<circle cx="443.9" cy="170.4" r="2.3" fill="#df9530" fill-opacity="0.80"/>
<circle cx="464.4" cy="164.1" r="2.3" fill="#df9530" fill-opacity="0.80"/>
<circle cx="485.0" cy="166.8" r="2.3" fill="#df9530" fill-opacity="0.80"/>
<circle cx="505.5" cy="162.8" r="2.3" fill="#df9530" fill-opacity="0.80"/>
<circle cx="526.1" cy="161.6" r="2.3" fill="#df9530" fill-opacity="0.80"/>
<circle cx="546.6" cy="161.9" r="2.3" fill="#df9530" fill-opacity="0.80"/>
<polyline points="259.0,217.4 279.5,216.9 300.1,218.0 320.6,204.3 341.2,201.4 361.7,197.3 382.3,195.3 402.8,192.4 423.3,190.6 443.9,168.0 464.4,162.5 485.0,164.2 505.5,161.1 526.1,159.7 546.6,160.0" fill="none" stroke="#df9530" stroke-width="0.9" stroke-opacity="0.80"/>
<circle cx="259.0" cy="217.4" r="2.3" fill="#df9530" fill-opacity="0.80"/>
<circle cx="279.5" cy="216.9" r="2.3" fill="#df9530" fill-opacity="0.80"/>
<circle cx="300.1" cy="218.0" r="2.3" fill="#df9530" fill-opacity="0.80"/>
<circle cx="320.6" cy="204.3" r="2.3" fill="#df9530" fill-opacity="0.80"/>
<circle cx="341.2" cy="201.4" r="2.3" fill="#df9530" fill-opacity="0.80"/>
<circle cx="361.7" cy="197.3" r="2.3" fill="#df9530" fill-opacity="0.80"/>
<circle cx="382.3" cy="195.3" r="2.3" fill="#df9530" fill-opacity="0.80"/>
<circle cx="402.8" cy="192.4" r="2.3" fill="#df9530" fill-opacity="0.80"/>
<circle cx="423.3" cy="190.6" r="2.3" fill="#df9530" fill-opacity="0.80"/>
<circle cx="443.9" cy="168.0" r="2.3" fill="#df9530" fill-opacity="0.80"/>
<circle cx="464.4" cy="162.5" r="2.3" fill="#df9530" fill-opacity="0.80"/>
<circle cx="485.0" cy="164.2" r="2.3" fill="#df9530" fill-opacity="0.80"/>
<circle cx="505.5" cy="161.1" r="2.3" fill="#df9530" fill-opacity="0.80"/>
<circle cx="526.1" cy="159.7" r="2.3" fill="#df9530" fill-opacity="0.80"/>
<circle cx="546.6" cy="160.0" r="2.3" fill="#df9530" fill-opacity="0.80"/>
<polyline points="259.0,216.8 279.5,216.1 300.1,218.0 320.6,203.2 341.2,200.4 361.7,195.4 382.3,194.2 402.8,191.4 423.3,189.7 443.9,164.8 464.4,160.1 485.0,161.8 505.5,158.3 526.1,158.1 546.6,158.0" fill="none" stroke="#df9530" stroke-width="0.9" stroke-opacity="0.80"/>
<circle cx="259.0" cy="216.8" r="2.3" fill="#df9530" fill-opacity="0.80"/>
<circle cx="279.5" cy="216.1" r="2.3" fill="#df9530" fill-opacity="0.80"/>
<circle cx="300.1" cy="218.0" r="2.3" fill="#df9530" fill-opacity="0.80"/>
<circle cx="320.6" cy="203.2" r="2.3" fill="#df9530" fill-opacity="0.80"/>
<circle cx="341.2" cy="200.4" r="2.3" fill="#df9530" fill-opacity="0.80"/>
<circle cx="361.7" cy="195.4" r="2.3" fill="#df9530" fill-opacity="0.80"/>
<circle cx="382.3" cy="194.2" r="2.3" fill="#df9530" fill-opacity="0.80"/>
<circle cx="402.8" cy="191.4" r="2.3" fill="#df9530" fill-opacity="0.80"/>
<circle cx="423.3" cy="189.7" r="2.3" fill="#df9530" fill-opacity="0.80"/>
<circle cx="443.9" cy="164.8" r="2.3" fill="#df9530" fill-opacity="0.80"/>
<circle cx="464.4" cy="160.1" r="2.3" fill="#df9530" fill-opacity="0.80"/>
<circle cx="485.0" cy="161.8" r="2.3" fill="#df9530" fill-opacity="0.80"/>
<circle cx="505.5" cy="158.3" r="2.3" fill="#df9530" fill-opacity="0.80"/>
<circle cx="526.1" cy="158.1" r="2.3" fill="#df9530" fill-opacity="0.80"/>
<circle cx="546.6" cy="158.0" r="2.3" fill="#df9530" fill-opacity="0.80"/>
<polyline points="259.0,216.2 279.5,215.5 300.1,218.0 320.6,202.0 341.2,199.0 361.7,193.4 382.3,193.0 402.8,190.4 423.3,188.7 443.9,162.2 464.4,158.1 485.0,159.1 505.5,156.3 526.1,155.7 546.6,156.0" fill="none" stroke="#df9530" stroke-width="0.9" stroke-opacity="0.80"/>
<circle cx="259.0" cy="216.2" r="2.3" fill="#df9530" fill-opacity="0.80"/>
<circle cx="279.5" cy="215.5" r="2.3" fill="#df9530" fill-opacity="0.80"/>
<circle cx="300.1" cy="218.0" r="2.3" fill="#df9530" fill-opacity="0.80"/>
<circle cx="320.6" cy="202.0" r="2.3" fill="#df9530" fill-opacity="0.80"/>
<circle cx="341.2" cy="199.0" r="2.3" fill="#df9530" fill-opacity="0.80"/>
<circle cx="361.7" cy="193.4" r="2.3" fill="#df9530" fill-opacity="0.80"/>
<circle cx="382.3" cy="193.0" r="2.3" fill="#df9530" fill-opacity="0.80"/>
<circle cx="402.8" cy="190.4" r="2.3" fill="#df9530" fill-opacity="0.80"/>
<circle cx="423.3" cy="188.7" r="2.3" fill="#df9530" fill-opacity="0.80"/>
<circle cx="443.9" cy="162.2" r="2.3" fill="#df9530" fill-opacity="0.80"/>
<circle cx="464.4" cy="158.1" r="2.3" fill="#df9530" fill-opacity="0.80"/>
<circle cx="485.0" cy="159.1" r="2.3" fill="#df9530" fill-opacity="0.80"/>
<circle cx="505.5" cy="156.3" r="2.3" fill="#df9530" fill-opacity="0.80"/>
<circle cx="526.1" cy="155.7" r="2.3" fill="#df9530" fill-opacity="0.80"/>
<circle cx="546.6" cy="156.0" r="2.3" fill="#df9530" fill-opacity="0.80"/>
<polyline points="259.0,215.6 279.5,215.0 300.1,218.0 320.6,200.9 341.2,197.9 361.7,191.8 382.3,191.8 402.8,189.5 423.3,187.5 443.9,159.7 464.4,155.8 485.0,157.0 505.5,153.9 526.1,153.9 546.6,154.2" fill="none" stroke="#df9530" stroke-width="0.9" stroke-opacity="0.80"/>
<circle cx="259.0" cy="215.6" r="2.3" fill="#df9530" fill-opacity="0.80"/>
<circle cx="279.5" cy="215.0" r="2.3" fill="#df9530" fill-opacity="0.80"/>
<circle cx="300.1" cy="218.0" r="2.3" fill="#df9530" fill-opacity="0.80"/>
<circle cx="320.6" cy="200.9" r="2.3" fill="#df9530" fill-opacity="0.80"/>
<circle cx="341.2" cy="197.9" r="2.3" fill="#df9530" fill-opacity="0.80"/>
<circle cx="361.7" cy="191.8" r="2.3" fill="#df9530" fill-opacity="0.80"/>
<circle cx="382.3" cy="191.8" r="2.3" fill="#df9530" fill-opacity="0.80"/>
<circle cx="402.8" cy="189.5" r="2.3" fill="#df9530" fill-opacity="0.80"/>
<circle cx="423.3" cy="187.5" r="2.3" fill="#df9530" fill-opacity="0.80"/>
<circle cx="443.9" cy="159.7" r="2.3" fill="#df9530" fill-opacity="0.80"/>
<circle cx="464.4" cy="155.8" r="2.3" fill="#df9530" fill-opacity="0.80"/>
<circle cx="485.0" cy="157.0" r="2.3" fill="#df9530" fill-opacity="0.80"/>
<circle cx="505.5" cy="153.9" r="2.3" fill="#df9530" fill-opacity="0.80"/>
<circle cx="526.1" cy="153.9" r="2.3" fill="#df9530" fill-opacity="0.80"/>
<circle cx="546.6" cy="154.2" r="2.3" fill="#df9530" fill-opacity="0.80"/>
<polyline points="259.0,220.4 279.5,217.9 300.1,218.0 320.6,247.2 341.2,250.9 361.7,250.9 382.3,250.3 402.8,250.3 423.3,251.6 443.9,232.0 464.4,235.7 485.0,239.9 505.5,244.8 526.1,246.7 546.6,248.4" fill="none" stroke="#4356ee" stroke-width="0.9" stroke-opacity="0.80"/>
<circle cx="259.0" cy="220.4" r="2.3" fill="#4356ee" fill-opacity="0.80"/>
<circle cx="279.5" cy="217.9" r="2.3" fill="#4356ee" fill-opacity="0.80"/>
<circle cx="300.1" cy="218.0" r="2.3" fill="#4356ee" fill-opacity="0.80"/>
<circle cx="320.6" cy="247.2" r="2.3" fill="#4356ee" fill-opacity="0.80"/>
<circle cx="341.2" cy="250.9" r="2.3" fill="#4356ee" fill-opacity="0.80"/>
<circle cx="361.7" cy="250.9" r="2.3" fill="#4356ee" fill-opacity="0.80"/>
<circle cx="382.3" cy="250.3" r="2.3" fill="#4356ee" fill-opacity="0.80"/>
<circle cx="402.8" cy="250.3" r="2.3" fill="#4356ee" fill-opacity="0.80"/>
<circle cx="423.3" cy="251.6" r="2.3" fill="#4356ee" fill-opacity="0.80"/>
<circle cx="443.9" cy="232.0" r="2.3" fill="#4356ee" fill-opacity="0.80"/>
<circle cx="464.4" cy="235.7" r="2.3" fill="#4356ee" fill-opacity="0.80"/>
<circle cx="485.0" cy="239.9" r="2.3" fill="#4356ee" fill-opacity="0.80"/>
<circle cx="505.5" cy="244.8" r="2.3" fill="#4356ee" fill-opacity="0.80"/>
<circle cx="526.1" cy="246.7" r="2.3" fill="#4356ee" fill-opacity="0.80"/>
<circle cx="546.6" cy="248.4" r="2.3" fill="#4356ee" fill-opacity="0.80"/>
<polyline points="259.0,219.7 279.5,217.4 300.1,218.0 320.6,246.6 341.2,250.3 361.7,250.0 382.3,249.6 402.8,249.6 423.3,250.7 443.9,231.0 464.4,234.9 485.0,239.1 505.5,243.6 526.1,245.6 546.6,247.7" fill="none" stroke="#4356ee" stroke-width="0.9" stroke-opacity="0.80"/>
<circle cx="259.0" cy="219.7" r="2.3" fill="#4356ee" fill-opacity="0.80"/>
<circle cx="279.5" cy="217.4" r="2.3" fill="#4356ee" fill-opacity="0.80"/>
<circle cx="300.1" cy="218.0" r="2.3" fill="#4356ee" fill-opacity="0.80"/>
<circle cx="320.6" cy="246.6" r="2.3" fill="#4356ee" fill-opacity="0.80"/>
<circle cx="341.2" cy="250.3" r="2.3" fill="#4356ee" fill-opacity="0.80"/>
<circle cx="361.7" cy="250.0" r="2.3" fill="#4356ee" fill-opacity="0.80"/>
<circle cx="382.3" cy="249.6" r="2.3" fill="#4356ee" fill-opacity="0.80"/>
<circle cx="402.8" cy="249.6" r="2.3" fill="#4356ee" fill-opacity="0.80"/>
<circle cx="423.3" cy="250.7" r="2.3" fill="#4356ee" fill-opacity="0.80"/>
<circle cx="443.9" cy="231.0" r="2.3" fill="#4356ee" fill-opacity="0.80"/>
<circle cx="464.4" cy="234.9" r="2.3" fill="#4356ee" fill-opacity="0.80"/>
<circle cx="485.0" cy="239.1" r="2.3" fill="#4356ee" fill-opacity="0.80"/>
<circle cx="505.5" cy="243.6" r="2.3" fill="#4356ee" fill-opacity="0.80"/>
<circle cx="526.1" cy="245.6" r="2.3" fill="#4356ee" fill-opacity="0.80"/>
<circle cx="546.6" cy="247.7" r="2.3" fill="#4356ee" fill-opacity="0.80"/>
<polyline points="259.0,219.0 279.5,216.8 300.1,218.0 320.6,246.0 341.2,249.8 361.7,249.1 382.3,248.9 402.8,248.8 423.3,249.7 443.9,229.7 464.4,233.9 485.0,238.0 505.5,242.6 526.1,244.7 546.6,246.8" fill="none" stroke="#4356ee" stroke-width="0.9" stroke-opacity="0.80"/>
<circle cx="259.0" cy="219.0" r="2.3" fill="#4356ee" fill-opacity="0.80"/>
<circle cx="279.5" cy="216.8" r="2.3" fill="#4356ee" fill-opacity="0.80"/>
<circle cx="300.1" cy="218.0" r="2.3" fill="#4356ee" fill-opacity="0.80"/>
<circle cx="320.6" cy="246.0" r="2.3" fill="#4356ee" fill-opacity="0.80"/>
<circle cx="341.2" cy="249.8" r="2.3" fill="#4356ee" fill-opacity="0.80"/>
<circle cx="361.7" cy="249.1" r="2.3" fill="#4356ee" fill-opacity="0.80"/>
<circle cx="382.3" cy="248.9" r="2.3" fill="#4356ee" fill-opacity="0.80"/>
<circle cx="402.8" cy="248.8" r="2.3" fill="#4356ee" fill-opacity="0.80"/>
<circle cx="423.3" cy="249.7" r="2.3" fill="#4356ee" fill-opacity="0.80"/>
<circle cx="443.9" cy="229.7" r="2.3" fill="#4356ee" fill-opacity="0.80"/>
<circle cx="464.4" cy="233.9" r="2.3" fill="#4356ee" fill-opacity="0.80"/>
<circle cx="485.0" cy="238.0" r="2.3" fill="#4356ee" fill-opacity="0.80"/>
<circle cx="505.5" cy="242.6" r="2.3" fill="#4356ee" fill-opacity="0.80"/>
<circle cx="526.1" cy="244.7" r="2.3" fill="#4356ee" fill-opacity="0.80"/>
<circle cx="546.6" cy="246.8" r="2.3" fill="#4356ee" fill-opacity="0.80"/>
<polyline points="259.0,218.2 279.5,216.1 300.1,218.0 320.6,245.4 341.2,249.1 361.7,248.1 382.3,248.0 402.8,248.2 423.3,248.9 443.9,229.0 464.4,233.0 485.0,237.1 505.5,241.6 526.1,243.8 546.6,245.7" fill="none" stroke="#4356ee" stroke-width="0.9" stroke-opacity="0.80"/>
<circle cx="259.0" cy="218.2" r="2.3" fill="#4356ee" fill-opacity="0.80"/>
<circle cx="279.5" cy="216.1" r="2.3" fill="#4356ee" fill-opacity="0.80"/>
<circle cx="300.1" cy="218.0" r="2.3" fill="#4356ee" fill-opacity="0.80"/>
<circle cx="320.6" cy="245.4" r="2.3" fill="#4356ee" fill-opacity="0.80"/>
<circle cx="341.2" cy="249.1" r="2.3" fill="#4356ee" fill-opacity="0.80"/>
<circle cx="361.7" cy="248.1" r="2.3" fill="#4356ee" fill-opacity="0.80"/>
<circle cx="382.3" cy="248.0" r="2.3" fill="#4356ee" fill-opacity="0.80"/>
<circle cx="402.8" cy="248.2" r="2.3" fill="#4356ee" fill-opacity="0.80"/>
<circle cx="423.3" cy="248.9" r="2.3" fill="#4356ee" fill-opacity="0.80"/>
<circle cx="443.9" cy="229.0" r="2.3" fill="#4356ee" fill-opacity="0.80"/>
<circle cx="464.4" cy="233.0" r="2.3" fill="#4356ee" fill-opacity="0.80"/>
<circle cx="485.0" cy="237.1" r="2.3" fill="#4356ee" fill-opacity="0.80"/>
<circle cx="505.5" cy="241.6" r="2.3" fill="#4356ee" fill-opacity="0.80"/>
<circle cx="526.1" cy="243.8" r="2.3" fill="#4356ee" fill-opacity="0.80"/>
<circle cx="546.6" cy="245.7" r="2.3" fill="#4356ee" fill-opacity="0.80"/>
<polyline points="259.0,217.4 279.5,215.6 300.1,218.0 320.6,244.8 341.2,248.5 361.7,247.4 382.3,247.3 402.8,247.4 423.3,247.9 443.9,227.8 464.4,232.2 485.0,236.4 505.5,240.6 526.1,243.1 546.6,244.8" fill="none" stroke="#4356ee" stroke-width="0.9" stroke-opacity="0.80"/>
<circle cx="259.0" cy="217.4" r="2.3" fill="#4356ee" fill-opacity="0.80"/>
<circle cx="279.5" cy="215.6" r="2.3" fill="#4356ee" fill-opacity="0.80"/>
<circle cx="300.1" cy="218.0" r="2.3" fill="#4356ee" fill-opacity="0.80"/>
<circle cx="320.6" cy="244.8" r="2.3" fill="#4356ee" fill-opacity="0.80"/>
<circle cx="341.2" cy="248.5" r="2.3" fill="#4356ee" fill-opacity="0.80"/>
<circle cx="361.7" cy="247.4" r="2.3" fill="#4356ee" fill-opacity="0.80"/>
<circle cx="382.3" cy="247.3" r="2.3" fill="#4356ee" fill-opacity="0.80"/>
<circle cx="402.8" cy="247.4" r="2.3" fill="#4356ee" fill-opacity="0.80"/>
<circle cx="423.3" cy="247.9" r="2.3" fill="#4356ee" fill-opacity="0.80"/>
<circle cx="443.9" cy="227.8" r="2.3" fill="#4356ee" fill-opacity="0.80"/>
<circle cx="464.4" cy="232.2" r="2.3" fill="#4356ee" fill-opacity="0.80"/>
<circle cx="485.0" cy="236.4" r="2.3" fill="#4356ee" fill-opacity="0.80"/>
<circle cx="505.5" cy="240.6" r="2.3" fill="#4356ee" fill-opacity="0.80"/>
<circle cx="526.1" cy="243.1" r="2.3" fill="#4356ee" fill-opacity="0.80"/>
<circle cx="546.6" cy="244.8" r="2.3" fill="#4356ee" fill-opacity="0.80"/>
<rect x="240.9" y="327.7" width="11.2" height="11" fill="#f5c842" stroke="#e2b22e" stroke-width="0.8"/>
<text x="259.0" y="336.8" class="lg">Control</text>
<rect x="301.4" y="327.7" width="11.2" height="11" fill="#d43fd4" stroke="#b42ab4" stroke-width="0.8"/>
<text x="319.5" y="336.8" class="lg">Drug 1</text>
<rect x="358.4" y="327.7" width="11.2" height="11" fill="#8e1a5e" stroke="#72104a" stroke-width="0.8"/>
<text x="376.5" y="336.8" class="lg">Drug 2</text>
<rect x="415.9" y="327.7" width="11.2" height="11" fill="#df9530" stroke="#c67f22" stroke-width="0.8"/>
<text x="434.0" y="336.8" class="lg">Drug 3</text>
<rect x="472.9" y="327.7" width="11.2" height="11" fill="#4356ee" stroke="#2f42d0" stroke-width="0.8"/>
<text x="491.0" y="336.8" class="lg">Drug 4</text>
<rect x="789.4" y="133" width="15.4" height="142" fill="#c3e3f3"/>
<line x1="700.3" y1="138.5" x2="700.3" y2="275" stroke="#1d3557" stroke-width="1.3"/>
<line x1="824.8" y1="138.5" x2="824.8" y2="275" stroke="#1d3557" stroke-width="1.3"/>
<line x1="887.3" y1="138.5" x2="887.3" y2="275" stroke="#1d3557" stroke-width="1.3"/>
<line x1="647.5" y1="132.5" x2="647.5" y2="279.5" stroke="#6f7175" stroke-width="1"/>
<line x1="643" y1="275.3" x2="975" y2="275.3" stroke="#bdbdbd" stroke-width="1.6"/>
<text x="639.5" y="278.4" text-anchor="end" class="tk">0</text>
<line x1="643.5" y1="246.6" x2="647.5" y2="246.6" stroke="#8a8c90" stroke-width="1"/>
<text x="639.5" y="250.0" text-anchor="end" class="tk">2</text>
<line x1="643.5" y1="218.2" x2="647.5" y2="218.2" stroke="#8a8c90" stroke-width="1"/>
<text x="639.5" y="221.6" text-anchor="end" class="tk">4</text>
<line x1="643.5" y1="189.8" x2="647.5" y2="189.8" stroke="#8a8c90" stroke-width="1"/>
<text x="639.5" y="193.2" text-anchor="end" class="tk">6</text>
<line x1="643.5" y1="161.4" x2="647.5" y2="161.4" stroke="#8a8c90" stroke-width="1"/>
<text x="639.5" y="164.8" text-anchor="end" class="tk">8</text>
<line x1="643.5" y1="133.0" x2="647.5" y2="133.0" stroke="#8a8c90" stroke-width="1"/>
<text x="639.5" y="136.4" text-anchor="end" class="tk">10</text>
<text x="647.5" y="294" text-anchor="middle" class="tk">0</text>
<line x1="709.9" y1="275.5" x2="709.9" y2="279.5" stroke="#8a8c90" stroke-width="1"/>
<text x="709.9" y="294" text-anchor="middle" class="tk">20</text>
<line x1="772.3" y1="275.5" x2="772.3" y2="279.5" stroke="#8a8c90" stroke-width="1"/>
<text x="772.3" y="294" text-anchor="middle" class="tk">40</text>
<line x1="834.7" y1="275.5" x2="834.7" y2="279.5" stroke="#8a8c90" stroke-width="1"/>
<text x="834.7" y="294" text-anchor="middle" class="tk">60</text>
<line x1="897.1" y1="275.5" x2="897.1" y2="279.5" stroke="#8a8c90" stroke-width="1"/>
<text x="897.1" y="294" text-anchor="middle" class="tk">80</text>
<line x1="959.5" y1="275.5" x2="959.5" y2="279.5" stroke="#8a8c90" stroke-width="1"/>
<text x="959.5" y="294" text-anchor="middle" class="tk">100</text>
<text x="811" y="315.5" text-anchor="middle" class="tk">Time (minutes)</text>
<text transform="translate(623.6,204) rotate(-90)" text-anchor="middle" class="tk" letter-spacing="-0.16">ECAR (mpH/min/1000 Cells)</text>
<rect x="799.6" y="124" width="60" height="14.6" fill="#fff"/>
<text x="647.6" y="133.1" class="tk3">Control or Experimental</text>
<text x="800.5" y="133.1" class="tk3">Oligomycin</text>
<text x="872" y="133.1" class="tk3">Rot/AA</text>
<path d="M646.0 232.4H656.0M646.0 235.2H656.0M651.0 232.4V235.2" stroke="#f5c842" stroke-opacity="0.55" stroke-width="1.2" fill="none"/>
<path d="M666.8 230.3H676.8M666.8 233.1H676.8M671.8 230.3V233.1" stroke="#f5c842" stroke-opacity="0.55" stroke-width="1.2" fill="none"/>
<path d="M687.7 230.3H697.7M687.7 233.1H697.7M692.7 230.3V233.1" stroke="#f5c842" stroke-opacity="0.55" stroke-width="1.2" fill="none"/>
<path d="M708.5 231.4H718.5M708.5 236.2H718.5M713.5 231.4V236.2" stroke="#f5c842" stroke-opacity="0.55" stroke-width="1.2" fill="none"/>
<path d="M729.3 230.0H739.3M729.3 234.8H739.3M734.3 230.0V234.8" stroke="#f5c842" stroke-opacity="0.55" stroke-width="1.2" fill="none"/>
<path d="M750.1 229.3H760.1M750.1 234.1H760.1M755.1 229.3V234.1" stroke="#f5c842" stroke-opacity="0.55" stroke-width="1.2" fill="none"/>
<path d="M771.0 229.3H781.0M771.0 234.1H781.0M776.0 229.3V234.1" stroke="#f5c842" stroke-opacity="0.55" stroke-width="1.2" fill="none"/>
<path d="M791.8 229.3H801.8M791.8 234.1H801.8M796.8 229.3V234.1" stroke="#f5c842" stroke-opacity="0.55" stroke-width="1.2" fill="none"/>
<path d="M812.6 228.6H822.6M812.6 233.4H822.6M817.6 228.6V233.4" stroke="#f5c842" stroke-opacity="0.55" stroke-width="1.2" fill="none"/>
<path d="M833.5 209.1H843.5M833.5 215.9H843.5M838.5 209.1V215.9" stroke="#f5c842" stroke-opacity="0.55" stroke-width="1.2" fill="none"/>
<path d="M854.3 207.0H864.3M854.3 213.8H864.3M859.3 207.0V213.8" stroke="#f5c842" stroke-opacity="0.55" stroke-width="1.2" fill="none"/>
<path d="M875.1 207.7H885.1M875.1 214.5H885.1M880.1 207.7V214.5" stroke="#f5c842" stroke-opacity="0.55" stroke-width="1.2" fill="none"/>
<path d="M895.9 204.9H905.9M895.9 211.7H905.9M900.9 204.9V211.7" stroke="#f5c842" stroke-opacity="0.55" stroke-width="1.2" fill="none"/>
<path d="M916.8 204.1H926.8M916.8 211.0H926.8M921.8 204.1V211.0" stroke="#f5c842" stroke-opacity="0.55" stroke-width="1.2" fill="none"/>
<path d="M937.6 202.7H947.6M937.6 209.5H947.6M942.6 202.7V209.5" stroke="#f5c842" stroke-opacity="0.55" stroke-width="1.2" fill="none"/>
<polyline points="651.0,233.8 671.8,231.7 692.7,231.7 713.5,233.8 734.3,232.4 755.1,231.7 776.0,231.7 796.8,231.7 817.6,231.0 838.5,212.5 859.3,210.4 880.1,211.1 900.9,208.3 921.8,207.6 942.6,206.1" fill="none" stroke="#f5c842" stroke-width="1" stroke-opacity="0.8"/>
<circle cx="651.0" cy="233.8" r="2.7" fill="#f5c842" fill-opacity="0.9"/>
<circle cx="671.8" cy="231.7" r="2.7" fill="#f5c842" fill-opacity="0.9"/>
<circle cx="692.7" cy="231.7" r="2.7" fill="#f5c842" fill-opacity="0.9"/>
<circle cx="713.5" cy="233.8" r="2.7" fill="#f5c842" fill-opacity="0.9"/>
<circle cx="734.3" cy="232.4" r="2.7" fill="#f5c842" fill-opacity="0.9"/>
<circle cx="755.1" cy="231.7" r="2.7" fill="#f5c842" fill-opacity="0.9"/>
<circle cx="776.0" cy="231.7" r="2.7" fill="#f5c842" fill-opacity="0.9"/>
<circle cx="796.8" cy="231.7" r="2.7" fill="#f5c842" fill-opacity="0.9"/>
<circle cx="817.6" cy="231.0" r="2.7" fill="#f5c842" fill-opacity="0.9"/>
<circle cx="838.5" cy="212.5" r="2.7" fill="#f5c842" fill-opacity="0.9"/>
<circle cx="859.3" cy="210.4" r="2.7" fill="#f5c842" fill-opacity="0.9"/>
<circle cx="880.1" cy="211.1" r="2.7" fill="#f5c842" fill-opacity="0.9"/>
<circle cx="900.9" cy="208.3" r="2.7" fill="#f5c842" fill-opacity="0.9"/>
<circle cx="921.8" cy="207.6" r="2.7" fill="#f5c842" fill-opacity="0.9"/>
<circle cx="942.6" cy="206.1" r="2.7" fill="#f5c842" fill-opacity="0.9"/>
<path d="M646.0 229.6H656.0M646.0 232.4H656.0M651.0 229.6V232.4" stroke="#4356ee" stroke-opacity="0.55" stroke-width="1.2" fill="none"/>
<path d="M666.8 228.8H676.8M666.8 231.7H676.8M671.8 228.8V231.7" stroke="#4356ee" stroke-opacity="0.55" stroke-width="1.2" fill="none"/>
<path d="M687.7 229.6H697.7M687.7 232.4H697.7M692.7 229.6V232.4" stroke="#4356ee" stroke-opacity="0.55" stroke-width="1.2" fill="none"/>
<path d="M708.5 248.7H718.5M708.5 253.6H718.5M713.5 248.7V253.6" stroke="#4356ee" stroke-opacity="0.55" stroke-width="1.2" fill="none"/>
<path d="M729.3 251.3H739.3M729.3 256.1H739.3M734.3 251.3V256.1" stroke="#4356ee" stroke-opacity="0.55" stroke-width="1.2" fill="none"/>
<path d="M750.1 251.3H760.1M750.1 256.1H760.1M755.1 251.3V256.1" stroke="#4356ee" stroke-opacity="0.55" stroke-width="1.2" fill="none"/>
<path d="M771.0 251.0H781.0M771.0 255.8H781.0M776.0 251.0V255.8" stroke="#4356ee" stroke-opacity="0.55" stroke-width="1.2" fill="none"/>
<path d="M791.8 251.0H801.8M791.8 255.8H801.8M796.8 251.0V255.8" stroke="#4356ee" stroke-opacity="0.55" stroke-width="1.2" fill="none"/>
<path d="M812.6 251.0H822.6M812.6 255.8H822.6M817.6 251.0V255.8" stroke="#4356ee" stroke-opacity="0.55" stroke-width="1.2" fill="none"/>
<path d="M833.5 237.5H843.5M833.5 244.3H843.5M838.5 237.5V244.3" stroke="#4356ee" stroke-opacity="0.55" stroke-width="1.2" fill="none"/>
<path d="M854.3 239.4H864.3M854.3 246.2H864.3M859.3 239.4V246.2" stroke="#4356ee" stroke-opacity="0.55" stroke-width="1.2" fill="none"/>
<path d="M875.1 243.2H885.1M875.1 250.0H885.1M880.1 243.2V250.0" stroke="#4356ee" stroke-opacity="0.55" stroke-width="1.2" fill="none"/>
<path d="M895.9 246.0H905.9M895.9 252.8H905.9M900.9 246.0V252.8" stroke="#4356ee" stroke-opacity="0.55" stroke-width="1.2" fill="none"/>
<path d="M916.8 247.5H926.8M916.8 254.3H926.8M921.8 247.5V254.3" stroke="#4356ee" stroke-opacity="0.55" stroke-width="1.2" fill="none"/>
<path d="M937.6 248.9H947.6M937.6 255.7H947.6M942.6 248.9V255.7" stroke="#4356ee" stroke-opacity="0.55" stroke-width="1.2" fill="none"/>
<polyline points="651.0,231.0 671.8,230.3 692.7,231.0 713.5,251.1 734.3,253.7 755.1,253.7 776.0,253.4 796.8,253.4 817.6,253.4 838.5,240.9 859.3,242.8 880.1,246.6 900.9,249.4 921.8,250.9 942.6,252.3" fill="none" stroke="#4356ee" stroke-width="1" stroke-opacity="0.8"/>
<circle cx="651.0" cy="231.0" r="2.7" fill="#4356ee" fill-opacity="0.9"/>
<circle cx="671.8" cy="230.3" r="2.7" fill="#4356ee" fill-opacity="0.9"/>
<circle cx="692.7" cy="231.0" r="2.7" fill="#4356ee" fill-opacity="0.9"/>
<circle cx="713.5" cy="251.1" r="2.7" fill="#4356ee" fill-opacity="0.9"/>
<circle cx="734.3" cy="253.7" r="2.7" fill="#4356ee" fill-opacity="0.9"/>
<circle cx="755.1" cy="253.7" r="2.7" fill="#4356ee" fill-opacity="0.9"/>
<circle cx="776.0" cy="253.4" r="2.7" fill="#4356ee" fill-opacity="0.9"/>
<circle cx="796.8" cy="253.4" r="2.7" fill="#4356ee" fill-opacity="0.9"/>
<circle cx="817.6" cy="253.4" r="2.7" fill="#4356ee" fill-opacity="0.9"/>
<circle cx="838.5" cy="240.9" r="2.7" fill="#4356ee" fill-opacity="0.9"/>
<circle cx="859.3" cy="242.8" r="2.7" fill="#4356ee" fill-opacity="0.9"/>
<circle cx="880.1" cy="246.6" r="2.7" fill="#4356ee" fill-opacity="0.9"/>
<circle cx="900.9" cy="249.4" r="2.7" fill="#4356ee" fill-opacity="0.9"/>
<circle cx="921.8" cy="250.9" r="2.7" fill="#4356ee" fill-opacity="0.9"/>
<circle cx="942.6" cy="252.3" r="2.7" fill="#4356ee" fill-opacity="0.9"/>
<path d="M646.0 231.0H656.0M646.0 233.8H656.0M651.0 231.0V233.8" stroke="#df9530" stroke-opacity="0.55" stroke-width="1.2" fill="none"/>
<path d="M666.8 229.6H676.8M666.8 232.4H676.8M671.8 229.6V232.4" stroke="#df9530" stroke-opacity="0.55" stroke-width="1.2" fill="none"/>
<path d="M687.7 229.6H697.7M687.7 232.4H697.7M692.7 229.6V232.4" stroke="#df9530" stroke-opacity="0.55" stroke-width="1.2" fill="none"/>
<path d="M708.5 218.1H718.5M708.5 222.9H718.5M713.5 218.1V222.9" stroke="#df9530" stroke-opacity="0.55" stroke-width="1.2" fill="none"/>
<path d="M729.3 215.8H739.3M729.3 220.6H739.3M734.3 215.8V220.6" stroke="#df9530" stroke-opacity="0.55" stroke-width="1.2" fill="none"/>
<path d="M750.1 212.9H760.1M750.1 217.8H760.1M755.1 212.9V217.8" stroke="#df9530" stroke-opacity="0.55" stroke-width="1.2" fill="none"/>
<path d="M771.0 212.2H781.0M771.0 217.1H781.0M776.0 212.2V217.1" stroke="#df9530" stroke-opacity="0.55" stroke-width="1.2" fill="none"/>
<path d="M791.8 210.5H801.8M791.8 215.4H801.8M796.8 210.5V215.4" stroke="#df9530" stroke-opacity="0.55" stroke-width="1.2" fill="none"/>
<path d="M812.6 210.1H822.6M812.6 214.9H822.6M817.6 210.1V214.9" stroke="#df9530" stroke-opacity="0.55" stroke-width="1.2" fill="none"/>
<path d="M833.5 191.1H843.5M833.5 197.9H843.5M838.5 191.1V197.9" stroke="#df9530" stroke-opacity="0.55" stroke-width="1.2" fill="none"/>
<path d="M854.3 187.8H864.3M854.3 194.6H864.3M859.3 187.8V194.6" stroke="#df9530" stroke-opacity="0.55" stroke-width="1.2" fill="none"/>
<path d="M875.1 189.2H885.1M875.1 196.0H885.1M880.1 189.2V196.0" stroke="#df9530" stroke-opacity="0.55" stroke-width="1.2" fill="none"/>
<path d="M895.9 185.0H905.9M895.9 191.8H905.9M900.9 185.0V191.8" stroke="#df9530" stroke-opacity="0.55" stroke-width="1.2" fill="none"/>
<path d="M916.8 185.0H926.8M916.8 191.8H926.8M921.8 185.0V191.8" stroke="#df9530" stroke-opacity="0.55" stroke-width="1.2" fill="none"/>
<path d="M937.6 185.0H947.6M937.6 191.8H947.6M942.6 185.0V191.8" stroke="#df9530" stroke-opacity="0.55" stroke-width="1.2" fill="none"/>
<polyline points="651.0,232.4 671.8,231.0 692.7,231.0 713.5,220.5 734.3,218.2 755.1,215.4 776.0,214.7 796.8,212.9 817.6,212.5 838.5,194.5 859.3,191.2 880.1,192.6 900.9,188.4 921.8,188.4 942.6,188.4" fill="none" stroke="#df9530" stroke-width="1" stroke-opacity="0.8"/>
<circle cx="651.0" cy="232.4" r="2.7" fill="#df9530" fill-opacity="0.9"/>
<circle cx="671.8" cy="231.0" r="2.7" fill="#df9530" fill-opacity="0.9"/>
<circle cx="692.7" cy="231.0" r="2.7" fill="#df9530" fill-opacity="0.9"/>
<circle cx="713.5" cy="220.5" r="2.7" fill="#df9530" fill-opacity="0.9"/>
<circle cx="734.3" cy="218.2" r="2.7" fill="#df9530" fill-opacity="0.9"/>
<circle cx="755.1" cy="215.4" r="2.7" fill="#df9530" fill-opacity="0.9"/>
<circle cx="776.0" cy="214.7" r="2.7" fill="#df9530" fill-opacity="0.9"/>
<circle cx="796.8" cy="212.9" r="2.7" fill="#df9530" fill-opacity="0.9"/>
<circle cx="817.6" cy="212.5" r="2.7" fill="#df9530" fill-opacity="0.9"/>
<circle cx="838.5" cy="194.5" r="2.7" fill="#df9530" fill-opacity="0.9"/>
<circle cx="859.3" cy="191.2" r="2.7" fill="#df9530" fill-opacity="0.9"/>
<circle cx="880.1" cy="192.6" r="2.7" fill="#df9530" fill-opacity="0.9"/>
<circle cx="900.9" cy="188.4" r="2.7" fill="#df9530" fill-opacity="0.9"/>
<circle cx="921.8" cy="188.4" r="2.7" fill="#df9530" fill-opacity="0.9"/>
<circle cx="942.6" cy="188.4" r="2.7" fill="#df9530" fill-opacity="0.9"/>
<path d="M646.0 229.6H656.0M646.0 232.4H656.0M651.0 229.6V232.4" stroke="#8e1a5e" stroke-opacity="0.55" stroke-width="1.2" fill="none"/>
<path d="M666.8 228.1H676.8M666.8 231.0H676.8M671.8 228.1V231.0" stroke="#8e1a5e" stroke-opacity="0.55" stroke-width="1.2" fill="none"/>
<path d="M687.7 228.8H697.7M687.7 231.7H697.7M692.7 228.8V231.7" stroke="#8e1a5e" stroke-opacity="0.55" stroke-width="1.2" fill="none"/>
<path d="M708.5 208.7H718.5M708.5 213.5H718.5M713.5 208.7V213.5" stroke="#8e1a5e" stroke-opacity="0.55" stroke-width="1.2" fill="none"/>
<path d="M729.3 202.3H739.3M729.3 207.1H739.3M734.3 202.3V207.1" stroke="#8e1a5e" stroke-opacity="0.55" stroke-width="1.2" fill="none"/>
<path d="M750.1 198.7H760.1M750.1 203.6H760.1M755.1 198.7V203.6" stroke="#8e1a5e" stroke-opacity="0.55" stroke-width="1.2" fill="none"/>
<path d="M771.0 197.3H781.0M771.0 202.2H781.0M776.0 197.3V202.2" stroke="#8e1a5e" stroke-opacity="0.55" stroke-width="1.2" fill="none"/>
<path d="M791.8 195.9H801.8M791.8 200.7H801.8M796.8 195.9V200.7" stroke="#8e1a5e" stroke-opacity="0.55" stroke-width="1.2" fill="none"/>
<path d="M812.6 195.2H822.6M812.6 200.0H822.6M817.6 195.2V200.0" stroke="#8e1a5e" stroke-opacity="0.55" stroke-width="1.2" fill="none"/>
<path d="M833.5 186.8H843.5M833.5 193.6H843.5M838.5 186.8V193.6" stroke="#8e1a5e" stroke-opacity="0.55" stroke-width="1.2" fill="none"/>
<path d="M854.3 184.3H864.3M854.3 191.1H864.3M859.3 184.3V191.1" stroke="#8e1a5e" stroke-opacity="0.55" stroke-width="1.2" fill="none"/>
<path d="M875.1 184.3H885.1M875.1 191.1H885.1M880.1 184.3V191.1" stroke="#8e1a5e" stroke-opacity="0.55" stroke-width="1.2" fill="none"/>
<path d="M895.9 182.8H905.9M895.9 189.7H905.9M900.9 182.8V189.7" stroke="#8e1a5e" stroke-opacity="0.55" stroke-width="1.2" fill="none"/>
<path d="M916.8 182.8H926.8M916.8 189.7H926.8M921.8 182.8V189.7" stroke="#8e1a5e" stroke-opacity="0.55" stroke-width="1.2" fill="none"/>
<path d="M937.6 182.8H947.6M937.6 189.7H947.6M942.6 182.8V189.7" stroke="#8e1a5e" stroke-opacity="0.55" stroke-width="1.2" fill="none"/>
<polyline points="651.0,231.0 671.8,229.6 692.7,230.3 713.5,211.1 734.3,204.7 755.1,201.2 776.0,199.7 796.8,198.3 817.6,197.6 838.5,190.2 859.3,187.7 880.1,187.7 900.9,186.2 921.8,186.2 942.6,186.2" fill="none" stroke="#8e1a5e" stroke-width="1" stroke-opacity="0.8"/>
<circle cx="651.0" cy="231.0" r="2.7" fill="#8e1a5e" fill-opacity="0.9"/>
<circle cx="671.8" cy="229.6" r="2.7" fill="#8e1a5e" fill-opacity="0.9"/>
<circle cx="692.7" cy="230.3" r="2.7" fill="#8e1a5e" fill-opacity="0.9"/>
<circle cx="713.5" cy="211.1" r="2.7" fill="#8e1a5e" fill-opacity="0.9"/>
<circle cx="734.3" cy="204.7" r="2.7" fill="#8e1a5e" fill-opacity="0.9"/>
<circle cx="755.1" cy="201.2" r="2.7" fill="#8e1a5e" fill-opacity="0.9"/>
<circle cx="776.0" cy="199.7" r="2.7" fill="#8e1a5e" fill-opacity="0.9"/>
<circle cx="796.8" cy="198.3" r="2.7" fill="#8e1a5e" fill-opacity="0.9"/>
<circle cx="817.6" cy="197.6" r="2.7" fill="#8e1a5e" fill-opacity="0.9"/>
<circle cx="838.5" cy="190.2" r="2.7" fill="#8e1a5e" fill-opacity="0.9"/>
<circle cx="859.3" cy="187.7" r="2.7" fill="#8e1a5e" fill-opacity="0.9"/>
<circle cx="880.1" cy="187.7" r="2.7" fill="#8e1a5e" fill-opacity="0.9"/>
<circle cx="900.9" cy="186.2" r="2.7" fill="#8e1a5e" fill-opacity="0.9"/>
<circle cx="921.8" cy="186.2" r="2.7" fill="#8e1a5e" fill-opacity="0.9"/>
<circle cx="942.6" cy="186.2" r="2.7" fill="#8e1a5e" fill-opacity="0.9"/>
<path d="M646.0 229.6H656.0M646.0 232.4H656.0M651.0 229.6V232.4" stroke="#d43fd4" stroke-opacity="0.55" stroke-width="1.2" fill="none"/>
<path d="M666.8 228.1H676.8M666.8 231.0H676.8M671.8 228.1V231.0" stroke="#d43fd4" stroke-opacity="0.55" stroke-width="1.2" fill="none"/>
<path d="M687.7 228.8H697.7M687.7 231.7H697.7M692.7 228.8V231.7" stroke="#d43fd4" stroke-opacity="0.55" stroke-width="1.2" fill="none"/>
<path d="M708.5 227.1H718.5M708.5 232.0H718.5M713.5 227.1V232.0" stroke="#d43fd4" stroke-opacity="0.55" stroke-width="1.2" fill="none"/>
<path d="M729.3 225.7H739.3M729.3 230.6H739.3M734.3 225.7V230.6" stroke="#d43fd4" stroke-opacity="0.55" stroke-width="1.2" fill="none"/>
<path d="M750.1 225.7H760.1M750.1 230.6H760.1M755.1 225.7V230.6" stroke="#d43fd4" stroke-opacity="0.55" stroke-width="1.2" fill="none"/>
<path d="M771.0 225.7H781.0M771.0 230.6H781.0M776.0 225.7V230.6" stroke="#d43fd4" stroke-opacity="0.55" stroke-width="1.2" fill="none"/>
<path d="M791.8 225.0H801.8M791.8 229.8H801.8M796.8 225.0V229.8" stroke="#d43fd4" stroke-opacity="0.55" stroke-width="1.2" fill="none"/>
<path d="M812.6 223.6H822.6M812.6 228.4H822.6M817.6 223.6V228.4" stroke="#d43fd4" stroke-opacity="0.55" stroke-width="1.2" fill="none"/>
<path d="M833.5 202.7H843.5M833.5 209.5H843.5M838.5 202.7V209.5" stroke="#d43fd4" stroke-opacity="0.55" stroke-width="1.2" fill="none"/>
<path d="M854.3 202.0H864.3M854.3 208.8H864.3M859.3 202.0V208.8" stroke="#d43fd4" stroke-opacity="0.55" stroke-width="1.2" fill="none"/>
<path d="M875.1 204.1H885.1M875.1 211.0H885.1M880.1 204.1V211.0" stroke="#d43fd4" stroke-opacity="0.55" stroke-width="1.2" fill="none"/>
<path d="M895.9 197.8H905.9M895.9 204.6H905.9M900.9 197.8V204.6" stroke="#d43fd4" stroke-opacity="0.55" stroke-width="1.2" fill="none"/>
<path d="M916.8 198.5H926.8M916.8 205.3H926.8M921.8 198.5V205.3" stroke="#d43fd4" stroke-opacity="0.55" stroke-width="1.2" fill="none"/>
<path d="M937.6 197.8H947.6M937.6 204.6H947.6M942.6 197.8V204.6" stroke="#d43fd4" stroke-opacity="0.55" stroke-width="1.2" fill="none"/>
<polyline points="651.0,231.0 671.8,229.6 692.7,230.3 713.5,229.6 734.3,228.1 755.1,228.1 776.0,228.1 796.8,227.4 817.6,226.0 838.5,206.1 859.3,205.4 880.1,207.6 900.9,201.2 921.8,201.9 942.6,201.2" fill="none" stroke="#d43fd4" stroke-width="1" stroke-opacity="0.8"/>
<circle cx="651.0" cy="231.0" r="2.7" fill="#d43fd4" fill-opacity="0.9"/>
<circle cx="671.8" cy="229.6" r="2.7" fill="#d43fd4" fill-opacity="0.9"/>
<circle cx="692.7" cy="230.3" r="2.7" fill="#d43fd4" fill-opacity="0.9"/>
<circle cx="713.5" cy="229.6" r="2.7" fill="#d43fd4" fill-opacity="0.9"/>
<circle cx="734.3" cy="228.1" r="2.7" fill="#d43fd4" fill-opacity="0.9"/>
<circle cx="755.1" cy="228.1" r="2.7" fill="#d43fd4" fill-opacity="0.9"/>
<circle cx="776.0" cy="228.1" r="2.7" fill="#d43fd4" fill-opacity="0.9"/>
<circle cx="796.8" cy="227.4" r="2.7" fill="#d43fd4" fill-opacity="0.9"/>
<circle cx="817.6" cy="226.0" r="2.7" fill="#d43fd4" fill-opacity="0.9"/>
<circle cx="838.5" cy="206.1" r="2.7" fill="#d43fd4" fill-opacity="0.9"/>
<circle cx="859.3" cy="205.4" r="2.7" fill="#d43fd4" fill-opacity="0.9"/>
<circle cx="880.1" cy="207.6" r="2.7" fill="#d43fd4" fill-opacity="0.9"/>
<circle cx="900.9" cy="201.2" r="2.7" fill="#d43fd4" fill-opacity="0.9"/>
<circle cx="921.8" cy="201.9" r="2.7" fill="#d43fd4" fill-opacity="0.9"/>
<circle cx="942.6" cy="201.2" r="2.7" fill="#d43fd4" fill-opacity="0.9"/>
<rect x="637.1" y="327.7" width="11.2" height="11" fill="#f5c842" stroke="#e2b22e" stroke-width="0.8"/>
<text x="655.2" y="336.8" class="lg">Control</text>
<rect x="697.6" y="327.7" width="11.2" height="11" fill="#d43fd4" stroke="#b42ab4" stroke-width="0.8"/>
<text x="715.7" y="336.8" class="lg">Drug 1</text>
<rect x="754.6" y="327.7" width="11.2" height="11" fill="#8e1a5e" stroke="#72104a" stroke-width="0.8"/>
<text x="772.7" y="336.8" class="lg">Drug 2</text>
<rect x="812.1" y="327.7" width="11.2" height="11" fill="#df9530" stroke="#c67f22" stroke-width="0.8"/>
<text x="830.2" y="336.8" class="lg">Drug 3</text>
<rect x="869.1" y="327.7" width="11.2" height="11" fill="#4356ee" stroke="#2f42d0" stroke-width="0.8"/>
<text x="887.2" y="336.8" class="lg">Drug 4</text>
<line x1="269.8" y1="466" x2="269.8" y2="531" stroke="#6f7175" stroke-width="1"/>
<line x1="266" y1="466.0" x2="269.8" y2="466.0" stroke="#6f7175" stroke-width="1"/>
<text x="262.8" y="469.6" text-anchor="end" class="tk2" letter-spacing="-0.35">71.44</text>
<line x1="266" y1="491.0" x2="269.8" y2="491.0" stroke="#6f7175" stroke-width="1"/>
<text x="262.8" y="494.6" text-anchor="end" class="tk2" letter-spacing="-0.35">57.15</text>
<line x1="266" y1="516.0" x2="269.8" y2="516.0" stroke="#6f7175" stroke-width="1"/>
<text x="262.8" y="519.6" text-anchor="end" class="tk2" letter-spacing="-0.35">42.86</text>
<text transform="translate(230.3,479) rotate(-90)" text-anchor="end" class="tk4">ATP Production Rate ...</text>
<path d="M269.8 484.4H283.8M269.8 497.7H283.8M276.8 484.4V497.7" stroke="#f5c842" stroke-opacity="0.5" stroke-width="1.3" fill="none"/>
<path d="M302.0 479.7H316.0M302.0 493.0H316.0M309.0 479.7V493.0" stroke="#f5c842" stroke-opacity="0.5" stroke-width="1.3" fill="none"/>
<path d="M334.2 484.1H348.2M334.2 497.4H348.2M341.2 484.1V497.4" stroke="#f5c842" stroke-opacity="0.5" stroke-width="1.3" fill="none"/>
<path d="M366.5 488.3H380.5M366.5 501.6H380.5M373.5 488.3V501.6" stroke="#f5c842" stroke-opacity="0.5" stroke-width="1.3" fill="none"/>
<path d="M398.7 480.2H412.7M398.7 493.5H412.7M405.7 480.2V493.5" stroke="#f5c842" stroke-opacity="0.5" stroke-width="1.3" fill="none"/>
<path d="M430.9 477.1H444.9M430.9 490.4H444.9M437.9 477.1V490.4" stroke="#f5c842" stroke-opacity="0.5" stroke-width="1.3" fill="none"/>
<path d="M463.2 476.7H477.2M463.2 490.0H477.2M470.2 476.7V490.0" stroke="#f5c842" stroke-opacity="0.5" stroke-width="1.3" fill="none"/>
<path d="M495.4 477.6H509.4M495.4 490.9H509.4M502.4 477.6V490.9" stroke="#f5c842" stroke-opacity="0.5" stroke-width="1.3" fill="none"/>
<path d="M527.6 477.6H541.6M527.6 490.9H541.6M534.6 477.6V490.9" stroke="#f5c842" stroke-opacity="0.5" stroke-width="1.3" fill="none"/>
<polyline points="276.8,491.1 309.0,486.4 341.2,490.7 373.5,494.9 405.7,486.9 437.9,483.7 470.2,483.4 502.4,484.3 534.6,484.3" fill="none" stroke="#f5c842" stroke-width="1.1" stroke-opacity="0.75"/>
<circle cx="276.8" cy="491.1" r="2.7" fill="#f5c842" fill-opacity="0.9"/>
<circle cx="309.0" cy="486.4" r="2.7" fill="#f5c842" fill-opacity="0.9"/>
<circle cx="341.2" cy="490.7" r="2.7" fill="#f5c842" fill-opacity="0.9"/>
<circle cx="373.5" cy="494.9" r="2.7" fill="#f5c842" fill-opacity="0.9"/>
<circle cx="405.7" cy="486.9" r="2.7" fill="#f5c842" fill-opacity="0.9"/>
<circle cx="437.9" cy="483.7" r="2.7" fill="#f5c842" fill-opacity="0.9"/>
<circle cx="470.2" cy="483.4" r="2.7" fill="#f5c842" fill-opacity="0.9"/>
<circle cx="502.4" cy="484.3" r="2.7" fill="#f5c842" fill-opacity="0.9"/>
<circle cx="534.6" cy="484.3" r="2.7" fill="#f5c842" fill-opacity="0.9"/>
<path d="M269.8 479.9H283.8M269.8 486.2H283.8M276.8 479.9V486.2" stroke="#d43fd4" stroke-opacity="0.5" stroke-width="1.3" fill="none"/>
<path d="M302.0 479.0H316.0M302.0 485.3H316.0M309.0 479.0V485.3" stroke="#d43fd4" stroke-opacity="0.5" stroke-width="1.3" fill="none"/>
<path d="M334.2 479.7H348.2M334.2 486.0H348.2M341.2 479.7V486.0" stroke="#d43fd4" stroke-opacity="0.5" stroke-width="1.3" fill="none"/>
<path d="M366.5 481.1H380.5M366.5 487.4H380.5M373.5 481.1V487.4" stroke="#d43fd4" stroke-opacity="0.5" stroke-width="1.3" fill="none"/>
<path d="M398.7 475.9H412.7M398.7 482.2H412.7M405.7 475.9V482.2" stroke="#d43fd4" stroke-opacity="0.5" stroke-width="1.3" fill="none"/>
<path d="M430.9 475.0H444.9M430.9 481.3H444.9M437.9 475.0V481.3" stroke="#d43fd4" stroke-opacity="0.5" stroke-width="1.3" fill="none"/>
<path d="M463.2 473.1H477.2M463.2 479.4H477.2M470.2 473.1V479.4" stroke="#d43fd4" stroke-opacity="0.5" stroke-width="1.3" fill="none"/>
<path d="M495.4 472.0H509.4M495.4 478.3H509.4M502.4 472.0V478.3" stroke="#d43fd4" stroke-opacity="0.5" stroke-width="1.3" fill="none"/>
<path d="M527.6 471.1H541.6M527.6 477.4H541.6M534.6 471.1V477.4" stroke="#d43fd4" stroke-opacity="0.5" stroke-width="1.3" fill="none"/>
<polyline points="276.8,483.0 309.0,482.2 341.2,482.9 373.5,484.3 405.7,479.0 437.9,478.1 470.2,476.2 502.4,475.2 534.6,474.3" fill="none" stroke="#d43fd4" stroke-width="1.1" stroke-opacity="0.75"/>
<circle cx="276.8" cy="483.0" r="2.7" fill="#d43fd4" fill-opacity="0.9"/>
<circle cx="309.0" cy="482.2" r="2.7" fill="#d43fd4" fill-opacity="0.9"/>
<circle cx="341.2" cy="482.9" r="2.7" fill="#d43fd4" fill-opacity="0.9"/>
<circle cx="373.5" cy="484.3" r="2.7" fill="#d43fd4" fill-opacity="0.9"/>
<circle cx="405.7" cy="479.0" r="2.7" fill="#d43fd4" fill-opacity="0.9"/>
<circle cx="437.9" cy="478.1" r="2.7" fill="#d43fd4" fill-opacity="0.9"/>
<circle cx="470.2" cy="476.2" r="2.7" fill="#d43fd4" fill-opacity="0.9"/>
<circle cx="502.4" cy="475.2" r="2.7" fill="#d43fd4" fill-opacity="0.9"/>
<circle cx="534.6" cy="474.3" r="2.7" fill="#d43fd4" fill-opacity="0.9"/>
<path d="M269.8 469.0H283.8M269.8 475.3H283.8M276.8 469.0V475.3" stroke="#8e1a5e" stroke-opacity="0.5" stroke-width="1.3" fill="none"/>
<path d="M302.0 465.5H316.0M302.0 471.8H316.0M309.0 465.5V471.8" stroke="#8e1a5e" stroke-opacity="0.5" stroke-width="1.3" fill="none"/>
<path d="M334.2 469.0H348.2M334.2 475.3H348.2M341.2 469.0V475.3" stroke="#8e1a5e" stroke-opacity="0.5" stroke-width="1.3" fill="none"/>
<path d="M366.5 479.0H380.5M366.5 485.3H380.5M373.5 479.0V485.3" stroke="#8e1a5e" stroke-opacity="0.5" stroke-width="1.3" fill="none"/>
<path d="M398.7 477.6H412.7M398.7 483.9H412.7M405.7 477.6V483.9" stroke="#8e1a5e" stroke-opacity="0.5" stroke-width="1.3" fill="none"/>
<path d="M430.9 475.0H444.9M430.9 481.3H444.9M437.9 475.0V481.3" stroke="#8e1a5e" stroke-opacity="0.5" stroke-width="1.3" fill="none"/>
<path d="M463.2 476.2H477.2M463.2 482.5H477.2M470.2 476.2V482.5" stroke="#8e1a5e" stroke-opacity="0.5" stroke-width="1.3" fill="none"/>
<path d="M495.4 477.6H509.4M495.4 483.9H509.4M502.4 477.6V483.9" stroke="#8e1a5e" stroke-opacity="0.5" stroke-width="1.3" fill="none"/>
<path d="M527.6 478.8H541.6M527.6 485.1H541.6M534.6 478.8V485.1" stroke="#8e1a5e" stroke-opacity="0.5" stroke-width="1.3" fill="none"/>
<polyline points="276.8,472.2 309.0,468.7 341.2,472.2 373.5,482.2 405.7,480.8 437.9,478.1 470.2,479.4 502.4,480.8 534.6,482.0" fill="none" stroke="#8e1a5e" stroke-width="1.1" stroke-opacity="0.75"/>
<circle cx="276.8" cy="472.2" r="2.7" fill="#8e1a5e" fill-opacity="0.9"/>
<circle cx="309.0" cy="468.7" r="2.7" fill="#8e1a5e" fill-opacity="0.9"/>
<circle cx="341.2" cy="472.2" r="2.7" fill="#8e1a5e" fill-opacity="0.9"/>
<circle cx="373.5" cy="482.2" r="2.7" fill="#8e1a5e" fill-opacity="0.9"/>
<circle cx="405.7" cy="480.8" r="2.7" fill="#8e1a5e" fill-opacity="0.9"/>
<circle cx="437.9" cy="478.1" r="2.7" fill="#8e1a5e" fill-opacity="0.9"/>
<circle cx="470.2" cy="479.4" r="2.7" fill="#8e1a5e" fill-opacity="0.9"/>
<circle cx="502.4" cy="480.8" r="2.7" fill="#8e1a5e" fill-opacity="0.9"/>
<circle cx="534.6" cy="482.0" r="2.7" fill="#8e1a5e" fill-opacity="0.9"/>
<path d="M269.8 477.6H283.8M269.8 483.9H283.8M276.8 477.6V483.9" stroke="#df9530" stroke-opacity="0.5" stroke-width="1.3" fill="none"/>
<path d="M302.0 477.6H316.0M302.0 483.9H316.0M309.0 477.6V483.9" stroke="#df9530" stroke-opacity="0.5" stroke-width="1.3" fill="none"/>
<path d="M334.2 481.8H348.2M334.2 488.1H348.2M341.2 481.8V488.1" stroke="#df9530" stroke-opacity="0.5" stroke-width="1.3" fill="none"/>
<path d="M366.5 486.2H380.5M366.5 492.5H380.5M373.5 486.2V492.5" stroke="#df9530" stroke-opacity="0.5" stroke-width="1.3" fill="none"/>
<path d="M398.7 483.2H412.7M398.7 489.5H412.7M405.7 483.2V489.5" stroke="#df9530" stroke-opacity="0.5" stroke-width="1.3" fill="none"/>
<path d="M430.9 480.8H444.9M430.9 487.1H444.9M437.9 480.8V487.1" stroke="#df9530" stroke-opacity="0.5" stroke-width="1.3" fill="none"/>
<path d="M463.2 480.8H477.2M463.2 487.1H477.2M470.2 480.8V487.1" stroke="#df9530" stroke-opacity="0.5" stroke-width="1.3" fill="none"/>
<path d="M495.4 480.2H509.4M495.4 486.5H509.4M502.4 480.2V486.5" stroke="#df9530" stroke-opacity="0.5" stroke-width="1.3" fill="none"/>
<path d="M527.6 480.2H541.6M527.6 486.5H541.6M534.6 480.2V486.5" stroke="#df9530" stroke-opacity="0.5" stroke-width="1.3" fill="none"/>
<polyline points="276.8,480.8 309.0,480.8 341.2,485.0 373.5,489.3 405.7,486.4 437.9,483.9 470.2,483.9 502.4,483.4 534.6,483.4" fill="none" stroke="#df9530" stroke-width="1.1" stroke-opacity="0.75"/>
<circle cx="276.8" cy="480.8" r="2.7" fill="#df9530" fill-opacity="0.9"/>
<circle cx="309.0" cy="480.8" r="2.7" fill="#df9530" fill-opacity="0.9"/>
<circle cx="341.2" cy="485.0" r="2.7" fill="#df9530" fill-opacity="0.9"/>
<circle cx="373.5" cy="489.3" r="2.7" fill="#df9530" fill-opacity="0.9"/>
<circle cx="405.7" cy="486.4" r="2.7" fill="#df9530" fill-opacity="0.9"/>
<circle cx="437.9" cy="483.9" r="2.7" fill="#df9530" fill-opacity="0.9"/>
<circle cx="470.2" cy="483.9" r="2.7" fill="#df9530" fill-opacity="0.9"/>
<circle cx="502.4" cy="483.4" r="2.7" fill="#df9530" fill-opacity="0.9"/>
<circle cx="534.6" cy="483.4" r="2.7" fill="#df9530" fill-opacity="0.9"/>
<path d="M269.8 471.1H283.8M269.8 477.4H283.8M276.8 471.1V477.4" stroke="#4356ee" stroke-opacity="0.5" stroke-width="1.3" fill="none"/>
<path d="M302.0 469.0H316.0M302.0 475.3H316.0M309.0 469.0V475.3" stroke="#4356ee" stroke-opacity="0.5" stroke-width="1.3" fill="none"/>
<path d="M334.2 473.9H348.2M334.2 480.2H348.2M341.2 473.9V480.2" stroke="#4356ee" stroke-opacity="0.5" stroke-width="1.3" fill="none"/>
<path d="M366.5 520.1H380.5M366.5 526.4H380.5M373.5 520.1V526.4" stroke="#4356ee" stroke-opacity="0.5" stroke-width="1.3" fill="none"/>
<path d="M398.7 504.0H412.7M398.7 510.3H412.7M405.7 504.0V510.3" stroke="#4356ee" stroke-opacity="0.5" stroke-width="1.3" fill="none"/>
<path d="M430.9 486.5H444.9M430.9 492.8H444.9M437.9 486.5V492.8" stroke="#4356ee" stroke-opacity="0.5" stroke-width="1.3" fill="none"/>
<path d="M463.2 479.7H477.2M463.2 486.0H477.2M470.2 479.7V486.0" stroke="#4356ee" stroke-opacity="0.5" stroke-width="1.3" fill="none"/>
<path d="M495.4 480.1H509.4M495.4 486.4H509.4M502.4 480.1V486.4" stroke="#4356ee" stroke-opacity="0.5" stroke-width="1.3" fill="none"/>
<path d="M527.6 481.1H541.6M527.6 487.4H541.6M534.6 481.1V487.4" stroke="#4356ee" stroke-opacity="0.5" stroke-width="1.3" fill="none"/>
<polyline points="276.8,474.3 309.0,472.2 341.2,477.1 373.5,523.3 405.7,507.2 437.9,489.7 470.2,482.9 502.4,483.2 534.6,484.3" fill="none" stroke="#4356ee" stroke-width="1.1" stroke-opacity="0.75"/>
<circle cx="276.8" cy="474.3" r="2.7" fill="#4356ee" fill-opacity="0.9"/>
<circle cx="309.0" cy="472.2" r="2.7" fill="#4356ee" fill-opacity="0.9"/>
<circle cx="341.2" cy="477.1" r="2.7" fill="#4356ee" fill-opacity="0.9"/>
<circle cx="373.5" cy="523.3" r="2.7" fill="#4356ee" fill-opacity="0.9"/>
<circle cx="405.7" cy="507.2" r="2.7" fill="#4356ee" fill-opacity="0.9"/>
<circle cx="437.9" cy="489.7" r="2.7" fill="#4356ee" fill-opacity="0.9"/>
<circle cx="470.2" cy="482.9" r="2.7" fill="#4356ee" fill-opacity="0.9"/>
<circle cx="502.4" cy="483.2" r="2.7" fill="#4356ee" fill-opacity="0.9"/>
<circle cx="534.6" cy="484.3" r="2.7" fill="#4356ee" fill-opacity="0.9"/>
<line x1="655" y1="440" x2="655" y2="531" stroke="#8a8c90" stroke-width="1"/>
<line x1="651" y1="440.2" x2="655" y2="440.2" stroke="#6f7175" stroke-width="1"/>
<text x="647.5" y="443.8" text-anchor="end" class="tk2">80</text>
<line x1="651" y1="464.7" x2="655" y2="464.7" stroke="#6f7175" stroke-width="1"/>
<text x="647.5" y="468.3" text-anchor="end" class="tk2">70</text>
<line x1="651" y1="489.2" x2="655" y2="489.2" stroke="#6f7175" stroke-width="1"/>
<text x="647.5" y="492.8" text-anchor="end" class="tk2">60</text>
<line x1="651" y1="513.7" x2="655" y2="513.7" stroke="#6f7175" stroke-width="1"/>
<text x="647.5" y="517.3" text-anchor="end" class="tk2">50</text>
<text transform="translate(624.8,444) rotate(-90)" text-anchor="end" class="tk4" style="font-size:10.2px">OCR (pmol/min/1000 Cells)</text>
<rect x="656.8" y="482.9" width="7.4" height="57.4" fill="#4f7dc4" stroke="#3e67aa" stroke-width="0.6"/>
<rect x="666.8" y="500.8" width="7.4" height="39.5" fill="#4f7dc4" stroke="#3e67aa" stroke-width="0.6"/>
<rect x="676.9" y="494.6" width="7.4" height="45.7" fill="#4f7dc4" stroke="#3e67aa" stroke-width="0.6"/>
<rect x="686.9" y="494.6" width="7.4" height="45.7" fill="#4f7dc4" stroke="#3e67aa" stroke-width="0.6"/>
<rect x="696.9" y="498.8" width="7.4" height="41.5" fill="#4f7dc4" stroke="#3e67aa" stroke-width="0.6"/>
<rect x="706.9" y="503.2" width="7.4" height="37.1" fill="#4f7dc4" stroke="#3e67aa" stroke-width="0.6"/>
<rect x="717.0" y="485.3" width="7.4" height="55.0" fill="#4f7dc4" stroke="#3e67aa" stroke-width="0.6"/>
<rect x="727.0" y="485.6" width="7.4" height="54.7" fill="#4f7dc4" stroke="#3e67aa" stroke-width="0.6"/>
<rect x="737.0" y="479.7" width="7.4" height="60.6" fill="#4f7dc4" stroke="#3e67aa" stroke-width="0.6"/>
<rect x="747.1" y="482.6" width="7.4" height="57.7" fill="#4f7dc4" stroke="#3e67aa" stroke-width="0.6"/>
<rect x="757.1" y="491.0" width="7.4" height="49.3" fill="#4f7dc4" stroke="#3e67aa" stroke-width="0.6"/>
<rect x="767.1" y="492.2" width="7.4" height="48.1" fill="#4f7dc4" stroke="#3e67aa" stroke-width="0.6"/>
<rect x="777.2" y="467.2" width="7.4" height="73.1" fill="#4f7dc4" stroke="#3e67aa" stroke-width="0.6"/>
<rect x="787.2" y="469.7" width="7.4" height="70.6" fill="#4f7dc4" stroke="#3e67aa" stroke-width="0.6"/>
<rect x="797.2" y="471.9" width="7.4" height="68.4" fill="#4f7dc4" stroke="#3e67aa" stroke-width="0.6"/>
<rect x="807.2" y="464.0" width="7.4" height="76.3" fill="#4f7dc4" stroke="#3e67aa" stroke-width="0.6"/>
<rect x="817.3" y="476.3" width="7.4" height="64.0" fill="#4f7dc4" stroke="#3e67aa" stroke-width="0.6"/>
<rect x="827.3" y="477.0" width="7.4" height="63.3" fill="#4f7dc4" stroke="#3e67aa" stroke-width="0.6"/>
<rect x="837.3" y="495.4" width="7.4" height="44.9" fill="#4f7dc4" stroke="#3e67aa" stroke-width="0.6"/>
<rect x="847.4" y="487.5" width="7.4" height="52.8" fill="#4f7dc4" stroke="#3e67aa" stroke-width="0.6"/>
<rect x="857.4" y="481.7" width="7.4" height="58.6" fill="#4f7dc4" stroke="#3e67aa" stroke-width="0.6"/>
<rect x="867.4" y="489.0" width="7.4" height="51.3" fill="#4f7dc4" stroke="#3e67aa" stroke-width="0.6"/>
<rect x="877.5" y="482.9" width="7.4" height="57.4" fill="#4f7dc4" stroke="#3e67aa" stroke-width="0.6"/>
<rect x="887.5" y="490.0" width="7.4" height="50.3" fill="#4f7dc4" stroke="#3e67aa" stroke-width="0.6"/>
<rect x="897.5" y="465.5" width="7.4" height="74.8" fill="#4f7dc4" stroke="#3e67aa" stroke-width="0.6"/>
<rect x="907.5" y="469.4" width="7.4" height="70.9" fill="#4f7dc4" stroke="#3e67aa" stroke-width="0.6"/>
<rect x="917.6" y="480.7" width="7.4" height="59.6" fill="#4f7dc4" stroke="#3e67aa" stroke-width="0.6"/>
<rect x="927.6" y="480.7" width="7.4" height="59.6" fill="#4f7dc4" stroke="#3e67aa" stroke-width="0.6"/>
<rect x="937.6" y="486.3" width="7.4" height="54.0" fill="#4f7dc4" stroke="#3e67aa" stroke-width="0.6"/>
<rect x="947.7" y="481.7" width="7.4" height="58.6" fill="#4f7dc4" stroke="#3e67aa" stroke-width="0.6"/>
<g transform="translate(569.7,91.9)" fill="none" stroke="#555" stroke-width="0.95"><path d="M14.8 10 H2.2 C0.6 10 0.2 8.8 0.2 7.5 C0.2 5.9 1.4 4.5 3 4.3 C3.6 3.1 4.8 2.5 6.2 2.7 C7 1.3 8.2 0.5 9.4 0.5 C10.8 0.5 11.6 1.3 12.2 2.1 L14.8 5.9 V10"/><path d="M9.2 7.9 H16.6" stroke="#666"/><path d="M16.2 6.4 L19 7.9 L16.2 9.4 Z" fill="#444" stroke="none"/></g>
<g transform="translate(966.5,92.1)" fill="none" stroke="#555" stroke-width="0.95"><path d="M14.8 10 H2.2 C0.6 10 0.2 8.8 0.2 7.5 C0.2 5.9 1.4 4.5 3 4.3 C3.6 3.1 4.8 2.5 6.2 2.7 C7 1.3 8.2 0.5 9.4 0.5 C10.8 0.5 11.6 1.3 12.2 2.1 L14.8 5.9 V10"/><path d="M9.2 7.9 H16.6" stroke="#666"/><path d="M16.2 6.4 L19 7.9 L16.2 9.4 Z" fill="#444" stroke="none"/></g>
<g transform="translate(567.5,410.8)" fill="none" stroke="#555" stroke-width="0.95"><path d="M14.8 10 H2.2 C0.6 10 0.2 8.8 0.2 7.5 C0.2 5.9 1.4 4.5 3 4.3 C3.6 3.1 4.8 2.5 6.2 2.7 C7 1.3 8.2 0.5 9.4 0.5 C10.8 0.5 11.6 1.3 12.2 2.1 L14.8 5.9 V10"/><path d="M9.2 7.9 H16.6" stroke="#666"/><path d="M16.2 6.4 L19 7.9 L16.2 9.4 Z" fill="#444" stroke="none"/></g>
<g transform="translate(965.0,410.8)" fill="none" stroke="#555" stroke-width="0.95"><path d="M14.8 10 H2.2 C0.6 10 0.2 8.8 0.2 7.5 C0.2 5.9 1.4 4.5 3 4.3 C3.6 3.1 4.8 2.5 6.2 2.7 C7 1.3 8.2 0.5 9.4 0.5 C10.8 0.5 11.6 1.3 12.2 2.1 L14.8 5.9 V10"/><path d="M9.2 7.9 H16.6" stroke="#666"/><path d="M16.2 6.4 L19 7.9 L16.2 9.4 Z" fill="#444" stroke="none"/></g>
</svg>
</body></html>
